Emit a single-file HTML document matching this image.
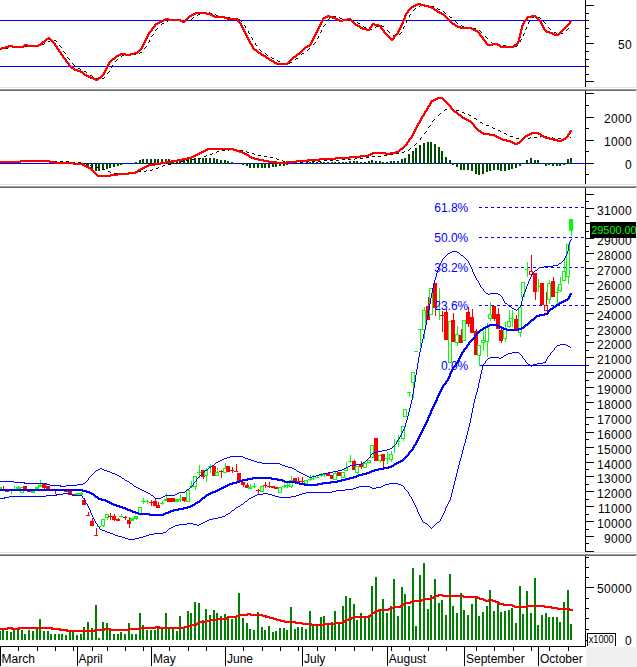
<!DOCTYPE html>
<html><head><meta charset="utf-8"><title>Chart</title>
<style>
html,body{margin:0;padding:0;background:#fff;}
body{width:637px;height:667px;overflow:hidden;position:relative;font-family:"Liberation Sans",sans-serif;}
svg text{font-family:"Liberation Sans",sans-serif;}
</style></head><body>
<svg width="637" height="667" viewBox="0 0 637 667" shape-rendering="crispEdges" style="position:absolute;left:0;top:0">
<rect x="0" y="0" width="637" height="667" fill="#ffffff"/>
<rect x="0" y="20" width="586" height="1" fill="#0000ff"/>
<rect x="0" y="66" width="586" height="1" fill="#0000ff"/>
<path d="M86 72h1v1h-1zM108 72h1v1h-1zM78 68h2v1h-2zM0 48h3v1h-3zM6 48h2v1h-2zM144 48h1v1h-1zM309 48h1v1h-1zM112 66h1v1h-1zM197 15h1v1h-1zM216 15h2v1h-2zM409 15h1v1h-1zM12 46h3v1h-3zM18 46h3v1h-3zM24 46h3v1h-3zM60 46h1v1h-1zM146 46h1v1h-1zM509 46h3v1h-3zM515 46h2v1h-2zM127 54h3v1h-3zM133 54h3v1h-3zM266 54h1v1h-1zM301 54h1v1h-1zM193 17h1v1h-1zM227 17h3v1h-3zM339 17h1v1h-1zM450 17h2v1h-2zM532 17h2v1h-2zM538 17h2v1h-2zM151 36h1v1h-1zM318 36h1v1h-1zM394 36h2v1h-2zM485 36h1v1h-1zM168 20h2v1h-2zM179 20h3v1h-3zM185 20h3v1h-3zM240 20h1v1h-1zM327 20h1v1h-1zM346 20h2v1h-2zM352 20h2v1h-2zM407 20h1v1h-1zM221 16h3v1h-3zM333 16h3v1h-3zM409 16h1v1h-1zM449 16h1v1h-1zM534 16h1v1h-1zM203 12h3v1h-3zM209 12h1v1h-1zM444 12h1v1h-1zM357 22h1v1h-1zM406 22h1v1h-1zM456 22h1v1h-1zM528 22h1v1h-1zM544 22h1v1h-1zM30 45h3v1h-3zM36 45h3v1h-3zM59 45h1v1h-1zM256 45h1v1h-1zM503 45h3v1h-3zM517 45h1v1h-1zM157 28h1v1h-1zM369 28h1v1h-1zM403 28h1v1h-1zM468 28h2v1h-2zM473 28h3v1h-3zM526 28h1v1h-1zM549 28h1v1h-1zM568 28h1v1h-1zM74 65h1v1h-1zM112 65h1v1h-1zM115 61h1v1h-1zM278 61h2v1h-2zM290 62h2v1h-2zM152 35h1v1h-1zM393 35h1v1h-1zM523 35h1v1h-1zM73 64h1v1h-1zM192 18h1v1h-1zM233 18h3v1h-3zM329 18h1v1h-1zM340 18h2v1h-2zM540 18h1v1h-1zM245 26h1v1h-1zM323 26h1v1h-1zM363 26h1v1h-1zM376 26h2v1h-2zM382 26h2v1h-2zM404 26h1v1h-1zM462 26h2v1h-2zM44 43h1v1h-1zM255 43h1v1h-1zM314 43h1v1h-1zM492 43h2v1h-2zM161 24h1v1h-1zM325 24h1v1h-1zM252 38h1v1h-1zM317 38h1v1h-1zM487 38h1v1h-1zM96 78h3v1h-3zM102 78h2v1h-2zM252 39h1v1h-1zM521 39h1v1h-1zM419 6h1v1h-1zM431 6h3v1h-3zM72 63h1v1h-1zM283 63h3v1h-3zM289 63h1v1h-1zM122 55h2v1h-2zM267 55h1v1h-1zM245 27h1v1h-1zM364 27h2v1h-2zM375 27h1v1h-1zM403 27h1v1h-1zM467 27h1v1h-1zM526 27h1v1h-1zM548 27h1v1h-1zM248 32h1v1h-1zM320 32h1v1h-1zM389 32h1v1h-1zM401 32h1v1h-1zM481 32h1v1h-1zM554 32h2v1h-2zM248 31h1v1h-1zM321 31h1v1h-1zM388 31h1v1h-1zM480 31h1v1h-1zM249 33h1v1h-1zM400 33h1v1h-1zM524 33h1v1h-1zM556 33h1v1h-1zM560 33h3v1h-3zM173 19h3v1h-3zM191 19h1v1h-1zM239 19h1v1h-1zM328 19h1v1h-1zM345 19h1v1h-1zM351 19h1v1h-1zM148 42h1v1h-1zM315 42h1v1h-1zM491 42h1v1h-1zM67 57h1v1h-1zM271 57h1v1h-1zM443 11h1v1h-1zM50 40h1v1h-1zM54 40h2v1h-2zM149 40h1v1h-1zM520 40h1v1h-1zM65 53h1v1h-1zM139 53h1v1h-1zM265 53h1v1h-1zM302 53h2v1h-2zM111 67h1v1h-1zM42 44h2v1h-2zM255 44h1v1h-1zM313 44h1v1h-1zM497 44h3v1h-3zM414 9h1v1h-1zM438 9h2v1h-2zM8 47h1v1h-1zM61 47h1v1h-1zM145 47h1v1h-1zM244 25h1v1h-1zM324 25h1v1h-1zM381 25h1v1h-1zM461 25h1v1h-1zM413 10h1v1h-1zM155 30h1v1h-1zM321 30h1v1h-1zM387 30h1v1h-1zM479 30h1v1h-1zM566 30h1v1h-1zM210 13h2v1h-2zM445 13h1v1h-1zM68 58h1v1h-1zM272 58h2v1h-2zM296 58h2v1h-2zM251 37h1v1h-1zM318 37h1v1h-1zM486 37h1v1h-1zM156 29h1v1h-1zM370 29h2v1h-2zM525 29h1v1h-1zM550 29h1v1h-1zM567 29h1v1h-1zM90 75h2v1h-2zM64 52h1v1h-1zM140 52h2v1h-2zM48 41h2v1h-2zM56 41h1v1h-1zM149 41h1v1h-1zM520 41h1v1h-1zM162 23h2v1h-2zM358 23h2v1h-2zM457 23h1v1h-1zM528 23h1v1h-1zM545 23h1v1h-1zM420 5h2v1h-2zM425 5h3v1h-3zM259 49h1v1h-1zM308 49h1v1h-1zM69 59h1v1h-1zM117 59h1v1h-1zM295 59h1v1h-1zM121 56h1v1h-1zM167 21h1v1h-1zM241 21h1v1h-1zM406 21h1v1h-1zM455 21h1v1h-1zM529 21h1v1h-1zM543 21h1v1h-1zM415 8h1v1h-1zM437 8h1v1h-1zM63 51h1v1h-1zM261 51h1v1h-1zM198 14h2v1h-2zM215 14h1v1h-1zM410 14h1v1h-1zM153 34h1v1h-1zM399 34h1v1h-1zM523 34h1v1h-1zM92 76h1v1h-1zM260 50h1v1h-1zM307 50h1v1h-1zM104 77h1v1h-1zM116 60h1v1h-1zM277 60h1v1h-1zM80 69h1v1h-1zM107 73h1v1h-1zM84 71h2v1h-2zM109 71h1v1h-1z" fill="#000000"/>
<path d="M161 20h5v1h-5zM168 20h15v1h-15zM184 20h3v1h-3zM237 20h2v1h-2zM321 20h3v1h-3zM337 20h11v1h-11zM350 20h3v1h-3zM402 20h3v1h-3zM448 20h3v1h-3zM524 20h3v1h-3zM538 20h3v1h-3zM570 20h2v1h-2zM66 62h3v1h-3zM108 62h3v1h-3zM273 62h4v1h-4zM287 62h3v1h-3zM155 23h5v1h-5zM239 23h3v1h-3zM320 23h2v1h-2zM353 23h3v1h-3zM372 23h3v1h-3zM401 23h3v1h-3zM451 23h4v1h-4zM522 23h3v1h-3zM540 23h3v1h-3zM568 23h3v1h-3zM88 77h6v1h-6zM98 77h4v1h-4zM45 39h7v1h-7zM145 39h2v1h-2zM247 39h3v1h-3zM312 39h2v1h-2zM390 39h4v1h-4zM482 39h3v1h-3zM518 39h2v1h-2zM8 45h5v1h-5zM23 45h18v1h-18zM54 45h3v1h-3zM142 45h2v1h-2zM251 45h2v1h-2zM307 45h4v1h-4zM487 45h6v1h-6zM497 45h4v1h-4zM513 45h4v1h-4zM159 21h5v1h-5zM180 21h6v1h-6zM237 21h3v1h-3zM321 21h2v1h-2zM339 21h4v1h-4zM351 21h3v1h-3zM402 21h2v1h-2zM449 21h3v1h-3zM523 21h3v1h-3zM539 21h3v1h-3zM569 21h3v1h-3zM148 33h2v1h-2zM244 33h3v1h-3zM315 33h2v1h-2zM384 33h3v1h-3zM396 33h3v1h-3zM478 33h3v1h-3zM519 33h3v1h-3zM549 33h6v1h-6zM558 33h3v1h-3zM41 42h4v1h-4zM52 42h3v1h-3zM143 42h3v1h-3zM249 42h2v1h-2zM310 42h3v1h-3zM485 42h2v1h-2zM517 42h2v1h-2zM195 12h12v1h-12zM406 12h3v1h-3zM437 12h5v1h-5zM409 8h3v1h-3zM431 8h4v1h-4zM152 27h3v1h-3zM241 27h3v1h-3zM318 27h2v1h-2zM359 27h4v1h-4zM369 27h3v1h-3zM380 27h2v1h-2zM399 27h3v1h-3zM457 27h15v1h-15zM521 27h2v1h-2zM542 27h3v1h-3zM564 27h3v1h-3zM188 16h4v1h-4zM212 16h13v1h-13zM325 16h8v1h-8zM404 16h2v1h-2zM444 16h3v1h-3zM527 16h10v1h-10zM151 29h2v1h-2zM242 29h3v1h-3zM317 29h2v1h-2zM362 29h9v1h-9zM381 29h3v1h-3zM398 29h3v1h-3zM471 29h5v1h-5zM520 29h3v1h-3zM543 29h3v1h-3zM562 29h3v1h-3zM61 55h3v1h-3zM116 55h5v1h-5zM125 55h6v1h-6zM261 55h5v1h-5zM295 55h3v1h-3zM58 51h3v1h-3zM137 51h3v1h-3zM256 51h3v1h-3zM300 51h3v1h-3zM413 5h5v1h-5zM420 5h9v1h-9zM146 36h3v1h-3zM246 36h2v1h-2zM313 36h3v1h-3zM387 36h3v1h-3zM393 36h3v1h-3zM480 36h3v1h-3zM519 36h2v1h-2zM59 52h3v1h-3zM134 52h5v1h-5zM257 52h4v1h-4zM299 52h3v1h-3zM157 22h5v1h-5zM182 22h3v1h-3zM238 22h3v1h-3zM320 22h3v1h-3zM352 22h3v1h-3zM402 22h2v1h-2zM450 22h3v1h-3zM523 22h2v1h-2zM540 22h2v1h-2zM569 22h2v1h-2zM60 53h2v1h-2zM120 53h6v1h-6zM130 53h8v1h-8zM258 53h4v1h-4zM297 53h4v1h-4zM148 32h3v1h-3zM244 32h2v1h-2zM315 32h3v1h-3zM383 32h3v1h-3zM397 32h2v1h-2zM477 32h3v1h-3zM520 32h2v1h-2zM546 32h7v1h-7zM559 32h3v1h-3zM151 28h3v1h-3zM242 28h2v1h-2zM317 28h3v1h-3zM360 28h7v1h-7zM369 28h2v1h-2zM380 28h3v1h-3zM399 28h2v1h-2zM460 28h14v1h-14zM521 28h2v1h-2zM543 28h2v1h-2zM563 28h3v1h-3zM90 78h6v1h-6zM97 78h4v1h-4zM153 26h3v1h-3zM241 26h2v1h-2zM318 26h3v1h-3zM357 26h4v1h-4zM370 26h3v1h-3zM378 26h4v1h-4zM400 26h2v1h-2zM455 26h6v1h-6zM521 26h2v1h-2zM542 26h2v1h-2zM565 26h3v1h-3zM40 43h3v1h-3zM53 43h3v1h-3zM143 43h2v1h-2zM249 43h3v1h-3zM310 43h2v1h-2zM485 43h3v1h-3zM492 43h6v1h-6zM516 43h3v1h-3zM165 18h4v1h-4zM186 18h3v1h-3zM224 18h14v1h-14zM322 18h4v1h-4zM332 18h6v1h-6zM347 18h4v1h-4zM403 18h3v1h-3zM446 18h3v1h-3zM526 18h2v1h-2zM536 18h3v1h-3zM58 50h2v1h-2zM138 50h3v1h-3zM254 50h4v1h-4zM301 50h3v1h-3zM42 41h4v1h-4zM51 41h3v1h-3zM144 41h2v1h-2zM248 41h3v1h-3zM311 41h2v1h-2zM484 41h3v1h-3zM517 41h3v1h-3zM65 61h3v1h-3zM109 61h3v1h-3zM271 61h4v1h-4zM288 61h3v1h-3zM68 64h2v1h-2zM107 64h3v1h-3zM276 64h12v1h-12zM48 37h2v1h-2zM146 37h2v1h-2zM246 37h3v1h-3zM313 37h2v1h-2zM388 37h3v1h-3zM393 37h2v1h-2zM481 37h3v1h-3zM518 37h3v1h-3zM187 17h3v1h-3zM214 17h14v1h-14zM323 17h5v1h-5zM329 17h7v1h-7zM404 17h2v1h-2zM445 17h3v1h-3zM526 17h6v1h-6zM535 17h3v1h-3zM24 44h4v1h-4zM38 44h4v1h-4zM54 44h2v1h-2zM142 44h3v1h-3zM250 44h3v1h-3zM309 44h3v1h-3zM486 44h14v1h-14zM514 44h4v1h-4zM150 30h3v1h-3zM243 30h2v1h-2zM316 30h3v1h-3zM366 30h4v1h-4zM382 30h3v1h-3zM398 30h2v1h-2zM473 30h5v1h-5zM520 30h2v1h-2zM544 30h3v1h-3zM561 30h3v1h-3zM0 49h2v1h-2zM57 49h3v1h-3zM139 49h3v1h-3zM253 49h4v1h-4zM302 49h3v1h-3zM0 48h6v1h-6zM56 48h3v1h-3zM140 48h3v1h-3zM252 48h3v1h-3zM303 48h3v1h-3zM163 19h18v1h-18zM185 19h3v1h-3zM227 19h12v1h-12zM322 19h2v1h-2zM335 19h5v1h-5zM342 19h10v1h-10zM403 19h2v1h-2zM447 19h3v1h-3zM525 19h3v1h-3zM537 19h3v1h-3zM62 57h3v1h-3zM114 57h3v1h-3zM265 57h4v1h-4zM292 57h4v1h-4zM93 79h6v1h-6zM5 46h20v1h-20zM27 46h12v1h-12zM55 46h3v1h-3zM141 46h3v1h-3zM251 46h3v1h-3zM305 46h5v1h-5zM499 46h16v1h-16zM84 75h5v1h-5zM101 75h3v1h-3zM74 70h7v1h-7zM104 70h3v1h-3zM154 24h4v1h-4zM240 24h2v1h-2zM319 24h3v1h-3zM354 24h4v1h-4zM371 24h8v1h-8zM401 24h2v1h-2zM452 24h4v1h-4zM522 24h2v1h-2zM541 24h2v1h-2zM567 24h3v1h-3zM191 14h5v1h-5zM206 14h7v1h-7zM405 14h2v1h-2zM441 14h4v1h-4zM189 15h5v1h-5zM210 15h5v1h-5zM327 15h3v1h-3zM404 15h3v1h-3zM443 15h3v1h-3zM531 15h5v1h-5zM1 47h8v1h-8zM12 47h12v1h-12zM56 47h2v1h-2zM141 47h2v1h-2zM252 47h2v1h-2zM304 47h4v1h-4zM500 47h14v1h-14zM68 65h3v1h-3zM107 65h2v1h-2zM407 10h3v1h-3zM434 10h4v1h-4zM63 58h3v1h-3zM112 58h4v1h-4zM266 58h4v1h-4zM291 58h3v1h-3zM147 35h2v1h-2zM245 35h3v1h-3zM314 35h2v1h-2zM386 35h3v1h-3zM394 35h3v1h-3zM479 35h3v1h-3zM519 35h2v1h-2zM554 35h5v1h-5zM44 40h3v1h-3zM50 40h3v1h-3zM144 40h3v1h-3zM248 40h2v1h-2zM311 40h3v1h-3zM391 40h2v1h-2zM483 40h3v1h-3zM518 40h2v1h-2zM193 13h18v1h-18zM405 13h3v1h-3zM439 13h5v1h-5zM80 72h4v1h-4zM103 72h3v1h-3zM46 38h5v1h-5zM145 38h3v1h-3zM247 38h2v1h-2zM312 38h3v1h-3zM389 38h6v1h-6zM482 38h2v1h-2zM518 38h2v1h-2zM407 11h2v1h-2zM436 11h4v1h-4zM67 63h3v1h-3zM108 63h2v1h-2zM274 63h15v1h-15zM410 7h4v1h-4zM428 7h6v1h-6zM70 67h4v1h-4zM106 67h2v1h-2zM415 4h10v1h-10zM83 74h4v1h-4zM102 74h3v1h-3zM147 34h3v1h-3zM245 34h2v1h-2zM314 34h3v1h-3zM385 34h3v1h-3zM395 34h3v1h-3zM479 34h2v1h-2zM519 34h2v1h-2zM552 34h8v1h-8zM95 80h3v1h-3zM86 76h5v1h-5zM100 76h3v1h-3zM82 73h3v1h-3zM103 73h2v1h-2zM60 54h3v1h-3zM118 54h17v1h-17zM260 54h4v1h-4zM296 54h4v1h-4zM154 25h2v1h-2zM240 25h3v1h-3zM319 25h2v1h-2zM355 25h5v1h-5zM371 25h2v1h-2zM374 25h7v1h-7zM400 25h3v1h-3zM454 25h4v1h-4zM521 25h3v1h-3zM541 25h3v1h-3zM566 25h3v1h-3zM65 60h2v1h-2zM110 60h3v1h-3zM269 60h5v1h-5zM289 60h3v1h-3zM69 66h3v1h-3zM106 66h3v1h-3zM149 31h3v1h-3zM243 31h3v1h-3zM316 31h2v1h-2zM383 31h2v1h-2zM397 31h3v1h-3zM475 31h4v1h-4zM520 31h2v1h-2zM545 31h5v1h-5zM560 31h3v1h-3zM408 9h3v1h-3zM433 9h4v1h-4zM411 6h5v1h-5zM424 6h8v1h-8zM73 69h5v1h-5zM105 69h2v1h-2zM64 59h3v1h-3zM111 59h4v1h-4zM268 59h4v1h-4zM290 59h3v1h-3zM77 71h6v1h-6zM104 71h2v1h-2zM71 68h4v1h-4zM105 68h3v1h-3zM417 3h4v1h-4zM62 56h2v1h-2zM115 56h4v1h-4zM263 56h4v1h-4zM293 56h4v1h-4z" fill="#ff0000"/>
<rect x="585" y="0" width="1" height="87" fill="#000"/>
<rect x="586" y="5" width="8" height="1" fill="#000"/>
<rect x="586" y="13" width="3" height="1" fill="#000"/>
<rect x="586" y="20" width="3" height="1" fill="#000"/>
<rect x="586" y="28" width="3" height="1" fill="#000"/>
<rect x="586" y="36" width="3" height="1" fill="#000"/>
<rect x="586" y="43" width="8" height="1" fill="#000"/>
<rect x="586" y="51" width="3" height="1" fill="#000"/>
<rect x="586" y="59" width="3" height="1" fill="#000"/>
<rect x="586" y="66" width="3" height="1" fill="#000"/>
<rect x="586" y="74" width="3" height="1" fill="#000"/>
<rect x="586" y="81" width="8" height="1" fill="#000"/>
<rect x="636" y="0" width="1" height="647" fill="#e3e3e3"/>
<rect x="0" y="87" width="637" height="1" fill="#e3e3e3"/>
<rect x="0" y="88" width="637" height="1" fill="#ffffff"/>
<rect x="0" y="89" width="637" height="1" fill="#a0a0a0"/>
<rect x="0" y="90" width="636" height="1" fill="#696969"/>
<rect x="0" y="184" width="637" height="1" fill="#e3e3e3"/>
<rect x="0" y="185" width="637" height="1" fill="#ffffff"/>
<rect x="0" y="186" width="637" height="1" fill="#a0a0a0"/>
<rect x="0" y="187" width="636" height="1" fill="#696969"/>
<rect x="0" y="552" width="637" height="1" fill="#e3e3e3"/>
<rect x="0" y="553" width="637" height="1" fill="#ffffff"/>
<rect x="0" y="554" width="637" height="1" fill="#a0a0a0"/>
<rect x="0" y="555" width="636" height="1" fill="#696969"/>
<rect x="0" y="163" width="586" height="1" fill="#0000ff"/>
<rect x="83" y="163" width="2" height="2" fill="#004a00"/>
<rect x="87" y="163" width="2" height="4" fill="#004a00"/>
<rect x="91" y="163" width="2" height="6" fill="#004a00"/>
<rect x="95" y="163" width="2" height="8" fill="#004a00"/>
<rect x="98" y="163" width="2" height="8" fill="#004a00"/>
<rect x="102" y="163" width="2" height="7" fill="#004a00"/>
<rect x="106" y="163" width="2" height="6" fill="#004a00"/>
<rect x="109" y="163" width="2" height="5" fill="#004a00"/>
<rect x="113" y="163" width="2" height="4" fill="#004a00"/>
<rect x="117" y="163" width="2" height="3" fill="#004a00"/>
<rect x="120" y="163" width="2" height="2" fill="#004a00"/>
<rect x="135" y="162" width="2" height="2" fill="#004a00"/>
<rect x="139" y="160" width="2" height="4" fill="#004a00"/>
<rect x="142" y="159" width="2" height="5" fill="#004a00"/>
<rect x="146" y="159" width="2" height="5" fill="#004a00"/>
<rect x="150" y="159" width="2" height="5" fill="#004a00"/>
<rect x="154" y="159" width="2" height="5" fill="#004a00"/>
<rect x="157" y="159" width="2" height="5" fill="#004a00"/>
<rect x="161" y="159" width="2" height="5" fill="#004a00"/>
<rect x="165" y="159" width="2" height="5" fill="#004a00"/>
<rect x="168" y="159" width="2" height="5" fill="#004a00"/>
<rect x="172" y="160" width="2" height="4" fill="#004a00"/>
<rect x="176" y="160" width="2" height="4" fill="#004a00"/>
<rect x="179" y="159" width="2" height="5" fill="#004a00"/>
<rect x="183" y="159" width="2" height="5" fill="#004a00"/>
<rect x="187" y="159" width="2" height="5" fill="#004a00"/>
<rect x="190" y="158" width="2" height="6" fill="#004a00"/>
<rect x="194" y="158" width="2" height="6" fill="#004a00"/>
<rect x="198" y="158" width="2" height="6" fill="#004a00"/>
<rect x="202" y="158" width="2" height="6" fill="#004a00"/>
<rect x="205" y="158" width="2" height="6" fill="#004a00"/>
<rect x="209" y="158" width="2" height="6" fill="#004a00"/>
<rect x="213" y="158" width="2" height="6" fill="#004a00"/>
<rect x="216" y="159" width="2" height="5" fill="#004a00"/>
<rect x="220" y="160" width="2" height="4" fill="#004a00"/>
<rect x="224" y="160" width="2" height="4" fill="#004a00"/>
<rect x="227" y="161" width="2" height="3" fill="#004a00"/>
<rect x="231" y="162" width="2" height="2" fill="#004a00"/>
<rect x="242" y="163" width="2" height="2" fill="#004a00"/>
<rect x="246" y="163" width="2" height="3" fill="#004a00"/>
<rect x="249" y="163" width="2" height="5" fill="#004a00"/>
<rect x="253" y="163" width="2" height="5" fill="#004a00"/>
<rect x="257" y="163" width="2" height="5" fill="#004a00"/>
<rect x="261" y="163" width="2" height="5" fill="#004a00"/>
<rect x="264" y="163" width="2" height="5" fill="#004a00"/>
<rect x="268" y="163" width="2" height="5" fill="#004a00"/>
<rect x="272" y="163" width="2" height="4" fill="#004a00"/>
<rect x="275" y="163" width="2" height="4" fill="#004a00"/>
<rect x="279" y="163" width="2" height="3" fill="#004a00"/>
<rect x="283" y="163" width="2" height="3" fill="#004a00"/>
<rect x="286" y="163" width="2" height="2" fill="#004a00"/>
<rect x="309" y="162" width="2" height="2" fill="#004a00"/>
<rect x="312" y="162" width="2" height="2" fill="#004a00"/>
<rect x="316" y="162" width="2" height="2" fill="#004a00"/>
<rect x="320" y="162" width="2" height="2" fill="#004a00"/>
<rect x="323" y="162" width="2" height="2" fill="#004a00"/>
<rect x="327" y="162" width="2" height="2" fill="#004a00"/>
<rect x="331" y="162" width="2" height="2" fill="#004a00"/>
<rect x="334" y="162" width="2" height="2" fill="#004a00"/>
<rect x="338" y="162" width="2" height="2" fill="#004a00"/>
<rect x="342" y="162" width="2" height="2" fill="#004a00"/>
<rect x="345" y="162" width="2" height="2" fill="#004a00"/>
<rect x="349" y="161" width="2" height="3" fill="#004a00"/>
<rect x="353" y="161" width="2" height="3" fill="#004a00"/>
<rect x="356" y="161" width="2" height="3" fill="#004a00"/>
<rect x="360" y="162" width="2" height="2" fill="#004a00"/>
<rect x="364" y="162" width="2" height="2" fill="#004a00"/>
<rect x="368" y="161" width="2" height="3" fill="#004a00"/>
<rect x="371" y="160" width="2" height="4" fill="#004a00"/>
<rect x="375" y="161" width="2" height="3" fill="#004a00"/>
<rect x="379" y="161" width="2" height="3" fill="#004a00"/>
<rect x="382" y="162" width="2" height="2" fill="#004a00"/>
<rect x="386" y="162" width="2" height="2" fill="#004a00"/>
<rect x="390" y="161" width="2" height="3" fill="#004a00"/>
<rect x="393" y="161" width="2" height="3" fill="#004a00"/>
<rect x="397" y="161" width="2" height="3" fill="#004a00"/>
<rect x="401" y="159" width="2" height="5" fill="#004a00"/>
<rect x="404" y="158" width="2" height="6" fill="#004a00"/>
<rect x="408" y="154" width="2" height="10" fill="#004a00"/>
<rect x="412" y="151" width="2" height="13" fill="#004a00"/>
<rect x="415" y="148" width="2" height="16" fill="#004a00"/>
<rect x="419" y="145" width="2" height="19" fill="#004a00"/>
<rect x="423" y="143" width="2" height="21" fill="#004a00"/>
<rect x="427" y="142" width="2" height="22" fill="#004a00"/>
<rect x="430" y="142" width="2" height="22" fill="#004a00"/>
<rect x="434" y="144" width="2" height="20" fill="#004a00"/>
<rect x="438" y="147" width="2" height="17" fill="#004a00"/>
<rect x="441" y="151" width="2" height="13" fill="#004a00"/>
<rect x="445" y="157" width="2" height="7" fill="#004a00"/>
<rect x="449" y="160" width="2" height="4" fill="#004a00"/>
<rect x="452" y="163" width="2" height="2" fill="#004a00"/>
<rect x="456" y="163" width="2" height="4" fill="#004a00"/>
<rect x="460" y="163" width="2" height="7" fill="#004a00"/>
<rect x="463" y="163" width="2" height="7" fill="#004a00"/>
<rect x="467" y="163" width="2" height="7" fill="#004a00"/>
<rect x="471" y="163" width="2" height="8" fill="#004a00"/>
<rect x="475" y="163" width="2" height="11" fill="#004a00"/>
<rect x="478" y="163" width="2" height="12" fill="#004a00"/>
<rect x="482" y="163" width="2" height="11" fill="#004a00"/>
<rect x="486" y="163" width="2" height="9" fill="#004a00"/>
<rect x="489" y="163" width="2" height="8" fill="#004a00"/>
<rect x="493" y="163" width="2" height="7" fill="#004a00"/>
<rect x="497" y="163" width="2" height="7" fill="#004a00"/>
<rect x="500" y="163" width="2" height="8" fill="#004a00"/>
<rect x="504" y="163" width="2" height="8" fill="#004a00"/>
<rect x="508" y="163" width="2" height="7" fill="#004a00"/>
<rect x="511" y="163" width="2" height="6" fill="#004a00"/>
<rect x="515" y="163" width="2" height="5" fill="#004a00"/>
<rect x="519" y="163" width="2" height="3" fill="#004a00"/>
<rect x="526" y="160" width="2" height="4" fill="#004a00"/>
<rect x="530" y="158" width="2" height="6" fill="#004a00"/>
<rect x="534" y="160" width="2" height="4" fill="#004a00"/>
<rect x="537" y="160" width="2" height="4" fill="#004a00"/>
<rect x="545" y="163" width="2" height="3" fill="#004a00"/>
<rect x="548" y="163" width="2" height="2" fill="#004a00"/>
<rect x="552" y="163" width="2" height="3" fill="#004a00"/>
<rect x="556" y="163" width="2" height="3" fill="#004a00"/>
<rect x="559" y="163" width="2" height="3" fill="#004a00"/>
<rect x="563" y="163" width="2" height="2" fill="#004a00"/>
<rect x="567" y="159" width="2" height="5" fill="#004a00"/>
<rect x="570" y="158" width="2" height="6" fill="#004a00"/>
<path d="M206 155h1v1h-1zM258 155h3v1h-3zM384 155h3v1h-3zM108 171h2v1h-2zM138 171h3v1h-3zM144 171h2v1h-2zM198 158h3v1h-3zM276 158h1v1h-1zM355 158h2v1h-2zM360 158h3v1h-3zM420 139h1v1h-1zM522 139h2v1h-2zM420 138h1v1h-1zM516 138h3v1h-3zM524 138h1v1h-1zM528 138h2v1h-2zM553 138h2v1h-2zM558 138h3v1h-3zM564 138h3v1h-3zM0 161h3v1h-3zM6 161h3v1h-3zM12 161h3v1h-3zM18 161h3v1h-3zM24 161h3v1h-3zM30 161h3v1h-3zM36 161h3v1h-3zM42 161h3v1h-3zM48 161h3v1h-3zM54 161h3v1h-3zM60 161h3v1h-3zM66 161h3v1h-3zM181 161h2v1h-2zM283 161h2v1h-2zM308 161h1v1h-1zM312 161h3v1h-3zM318 161h3v1h-3zM90 165h1v1h-1zM163 165h2v1h-2zM210 154h2v1h-2zM254 154h1v1h-1zM390 154h3v1h-3zM430 125h1v1h-1zM486 125h3v1h-3zM102 169h3v1h-3zM152 169h1v1h-1zM270 157h3v1h-3zM366 157h3v1h-3zM114 173h3v1h-3zM122 173h1v1h-1zM126 173h2v1h-2zM110 172h1v1h-1zM128 172h1v1h-1zM132 172h3v1h-3zM421 137h1v1h-1zM530 137h1v1h-1zM534 137h3v1h-3zM547 137h2v1h-2zM552 137h1v1h-1zM570 137h1v1h-1zM212 153h1v1h-1zM252 153h2v1h-2zM396 153h3v1h-3zM216 152h1v1h-1zM247 152h2v1h-2zM402 152h2v1h-2zM72 162h3v1h-3zM78 162h3v1h-3zM180 162h1v1h-1zM288 162h3v1h-3zM300 162h3v1h-3zM306 162h2v1h-2zM426 131h1v1h-1zM500 131h1v1h-1zM445 109h2v1h-2zM493 128h2v1h-2zM510 136h3v1h-3zM540 136h3v1h-3zM546 136h1v1h-1zM186 160h3v1h-3zM282 160h1v1h-1zM324 160h3v1h-3zM330 160h3v1h-3zM336 160h3v1h-3zM96 167h3v1h-3zM158 167h1v1h-1zM229 149h2v1h-2zM234 149h3v1h-3zM409 149h1v1h-1zM204 156h2v1h-2zM264 156h3v1h-3zM372 156h3v1h-3zM378 156h3v1h-3zM451 108h2v1h-2zM424 133h1v1h-1zM504 133h2v1h-2zM192 159h3v1h-3zM277 159h2v1h-2zM342 159h3v1h-3zM348 159h3v1h-3zM354 159h1v1h-1zM434 119h1v1h-1zM476 119h1v1h-1zM86 164h1v1h-1zM168 164h3v1h-3zM432 121h1v1h-1zM433 120h1v1h-1zM217 151h2v1h-2zM246 151h1v1h-1zM404 151h1v1h-1zM498 130h2v1h-2zM84 163h2v1h-2zM174 163h3v1h-3zM294 163h3v1h-3zM438 115h1v1h-1zM469 115h2v1h-2zM506 134h1v1h-1zM415 144h1v1h-1zM462 112h2v1h-2zM222 150h3v1h-3zM228 150h1v1h-1zM240 150h3v1h-3zM408 150h1v1h-1zM120 174h2v1h-2zM425 132h1v1h-1zM444 110h1v1h-1zM456 110h3v1h-3zM440 113h1v1h-1zM464 113h1v1h-1zM474 118h2v1h-2zM480 122h2v1h-2zM146 170h1v1h-1zM150 170h2v1h-2zM439 114h1v1h-1zM468 114h1v1h-1zM91 166h2v1h-2zM162 166h1v1h-1zM414 145h1v1h-1zM156 168h2v1h-2zM429 126h1v1h-1zM428 127h1v1h-1zM492 127h1v1h-1zM450 107h1v1h-1zM482 123h1v1h-1zM410 148h1v1h-1zM416 143h1v1h-1z" fill="#000000"/>
<path d="M177 159h11v1h-11zM254 159h10v1h-10zM307 159h29v1h-29zM409 138h3v1h-3zM498 138h5v1h-5zM522 138h3v1h-3zM545 138h9v1h-9zM563 138h4v1h-4zM0 162h21v1h-21zM49 162h25v1h-25zM160 162h12v1h-12zM268 162h29v1h-29zM412 134h2v1h-2zM483 134h12v1h-12zM527 134h5v1h-5zM538 134h4v1h-4zM567 134h3v1h-3zM195 154h5v1h-5zM244 154h5v1h-5zM368 154h5v1h-5zM385 154h6v1h-6zM97 176h14v1h-14zM20 160h30v1h-30zM171 160h12v1h-12zM258 160h11v1h-11zM296 160h24v1h-24zM410 137h3v1h-3zM496 137h5v1h-5zM523 137h3v1h-3zM543 137h7v1h-7zM565 137h3v1h-3zM187 157h7v1h-7zM249 157h6v1h-6zM335 157h26v1h-26zM182 158h10v1h-10zM251 158h8v1h-8zM319 158h31v1h-31zM199 152h5v1h-5zM239 152h6v1h-6zM372 152h14v1h-14zM390 152h9v1h-9zM437 97h6v1h-6zM421 117h2v1h-2zM461 117h4v1h-4zM197 153h5v1h-5zM242 153h5v1h-5zM370 153h26v1h-26zM416 126h2v1h-2zM473 126h3v1h-3zM205 149h32v1h-32zM399 149h4v1h-4zM92 171h3v1h-3zM135 171h4v1h-4zM54 163h29v1h-29zM154 163h12v1h-12zM276 163h11v1h-11zM94 173h3v1h-3zM117 173h19v1h-19zM95 174h3v1h-3zM110 174h19v1h-19zM407 141h3v1h-3zM506 141h7v1h-7zM519 141h3v1h-3zM557 141h5v1h-5zM414 129h3v1h-3zM476 129h3v1h-3zM207 148h27v1h-27zM400 148h4v1h-4zM411 135h3v1h-3zM489 135h8v1h-8zM525 135h5v1h-5zM540 135h4v1h-4zM567 135h2v1h-2zM0 161h55v1h-55zM165 161h13v1h-13zM263 161h14v1h-14zM286 161h22v1h-22zM201 151h5v1h-5zM236 151h7v1h-7zM395 151h5v1h-5zM429 103h3v1h-3zM446 103h3v1h-3zM423 114h2v1h-2zM457 114h4v1h-4zM203 150h5v1h-5zM233 150h7v1h-7zM398 150h3v1h-3zM426 109h2v1h-2zM451 109h3v1h-3zM415 128h2v1h-2zM475 128h3v1h-3zM73 164h12v1h-12zM148 164h13v1h-13zM86 167h5v1h-5zM142 167h5v1h-5zM425 110h3v1h-3zM452 110h3v1h-3zM406 142h3v1h-3zM510 142h5v1h-5zM517 142h4v1h-4zM412 133h3v1h-3zM481 133h9v1h-9zM529 133h12v1h-12zM568 133h3v1h-3zM420 119h2v1h-2zM464 119h5v1h-5zM431 100h5v1h-5zM443 100h3v1h-3zM193 155h5v1h-5zM246 155h4v1h-4zM360 155h11v1h-11zM406 143h2v1h-2zM512 143h8v1h-8zM428 105h3v1h-3zM448 105h3v1h-3zM84 166h5v1h-5zM144 166h5v1h-5zM411 136h2v1h-2zM494 136h5v1h-5zM524 136h4v1h-4zM541 136h5v1h-5zM566 136h3v1h-3zM408 139h3v1h-3zM500 139h7v1h-7zM521 139h3v1h-3zM549 139h9v1h-9zM561 139h5v1h-5zM96 175h22v1h-22zM408 140h2v1h-2zM502 140h9v1h-9zM520 140h3v1h-3zM553 140h11v1h-11zM424 112h2v1h-2zM454 112h4v1h-4zM413 131h3v1h-3zM478 131h4v1h-4zM569 131h3v1h-3zM427 106h3v1h-3zM449 106h3v1h-3zM422 115h3v1h-3zM458 115h4v1h-4zM405 144h3v1h-3zM514 144h4v1h-4zM427 107h2v1h-2zM450 107h2v1h-2zM421 116h3v1h-3zM460 116h3v1h-3zM435 98h9v1h-9zM191 156h5v1h-5zM248 156h4v1h-4zM349 156h20v1h-20zM93 172h3v1h-3zM128 172h10v1h-10zM418 122h3v1h-3zM470 122h3v1h-3zM426 108h3v1h-3zM450 108h3v1h-3zM420 118h3v1h-3zM462 118h5v1h-5zM433 99h5v1h-5zM442 99h3v1h-3zM82 165h5v1h-5zM146 165h9v1h-9zM413 132h2v1h-2zM480 132h4v1h-4zM531 132h8v1h-8zM569 132h2v1h-2zM424 111h3v1h-3zM453 111h4v1h-4zM90 169h3v1h-3zM138 169h5v1h-5zM417 124h2v1h-2zM472 124h3v1h-3zM403 146h3v1h-3zM88 168h4v1h-4zM140 168h5v1h-5zM423 113h3v1h-3zM456 113h3v1h-3zM419 121h2v1h-2zM468 121h4v1h-4zM419 120h3v1h-3zM466 120h5v1h-5zM415 127h3v1h-3zM474 127h3v1h-3zM414 130h2v1h-2zM477 130h4v1h-4zM570 130h2v1h-2zM429 104h2v1h-2zM447 104h3v1h-3zM404 145h3v1h-3zM430 101h4v1h-4zM444 101h3v1h-3zM91 170h3v1h-3zM137 170h4v1h-4zM417 123h3v1h-3zM471 123h3v1h-3zM416 125h3v1h-3zM473 125h2v1h-2zM402 147h3v1h-3zM430 102h2v1h-2zM445 102h3v1h-3z" fill="#ff0000"/>
<rect x="585" y="91" width="1" height="93" fill="#000"/>
<rect x="586" y="93" width="8" height="1" fill="#000"/>
<rect x="586" y="105" width="3" height="1" fill="#000"/>
<rect x="586" y="117" width="8" height="1" fill="#000"/>
<rect x="586" y="128" width="3" height="1" fill="#000"/>
<rect x="586" y="140" width="8" height="1" fill="#000"/>
<rect x="586" y="151" width="3" height="1" fill="#000"/>
<rect x="586" y="163" width="8" height="1" fill="#000"/>
<rect x="586" y="174" width="3" height="1" fill="#000"/>
<rect x="585" y="188" width="1" height="364" fill="#000"/>
<rect x="586" y="551" width="8" height="1" fill="#000"/>
<rect x="586" y="543" width="3" height="1" fill="#000"/>
<rect x="586" y="536" width="8" height="1" fill="#000"/>
<rect x="586" y="529" width="3" height="1" fill="#000"/>
<rect x="586" y="521" width="8" height="1" fill="#000"/>
<rect x="586" y="514" width="3" height="1" fill="#000"/>
<rect x="586" y="506" width="8" height="1" fill="#000"/>
<rect x="586" y="499" width="3" height="1" fill="#000"/>
<rect x="586" y="491" width="8" height="1" fill="#000"/>
<rect x="586" y="484" width="3" height="1" fill="#000"/>
<rect x="586" y="476" width="8" height="1" fill="#000"/>
<rect x="586" y="469" width="3" height="1" fill="#000"/>
<rect x="586" y="462" width="8" height="1" fill="#000"/>
<rect x="586" y="454" width="3" height="1" fill="#000"/>
<rect x="586" y="447" width="8" height="1" fill="#000"/>
<rect x="586" y="439" width="3" height="1" fill="#000"/>
<rect x="586" y="432" width="8" height="1" fill="#000"/>
<rect x="586" y="424" width="3" height="1" fill="#000"/>
<rect x="586" y="417" width="8" height="1" fill="#000"/>
<rect x="586" y="409" width="3" height="1" fill="#000"/>
<rect x="586" y="402" width="8" height="1" fill="#000"/>
<rect x="586" y="395" width="3" height="1" fill="#000"/>
<rect x="586" y="387" width="8" height="1" fill="#000"/>
<rect x="586" y="380" width="3" height="1" fill="#000"/>
<rect x="586" y="372" width="8" height="1" fill="#000"/>
<rect x="586" y="365" width="3" height="1" fill="#000"/>
<rect x="586" y="357" width="8" height="1" fill="#000"/>
<rect x="586" y="350" width="3" height="1" fill="#000"/>
<rect x="586" y="342" width="8" height="1" fill="#000"/>
<rect x="586" y="335" width="3" height="1" fill="#000"/>
<rect x="586" y="328" width="8" height="1" fill="#000"/>
<rect x="586" y="320" width="3" height="1" fill="#000"/>
<rect x="586" y="313" width="8" height="1" fill="#000"/>
<rect x="586" y="305" width="3" height="1" fill="#000"/>
<rect x="586" y="298" width="8" height="1" fill="#000"/>
<rect x="586" y="290" width="3" height="1" fill="#000"/>
<rect x="586" y="283" width="8" height="1" fill="#000"/>
<rect x="586" y="275" width="3" height="1" fill="#000"/>
<rect x="586" y="268" width="8" height="1" fill="#000"/>
<rect x="586" y="261" width="3" height="1" fill="#000"/>
<rect x="586" y="253" width="8" height="1" fill="#000"/>
<rect x="586" y="246" width="3" height="1" fill="#000"/>
<rect x="586" y="238" width="8" height="1" fill="#000"/>
<rect x="586" y="231" width="3" height="1" fill="#000"/>
<rect x="586" y="223" width="8" height="1" fill="#000"/>
<rect x="586" y="216" width="3" height="1" fill="#000"/>
<rect x="586" y="208" width="8" height="1" fill="#000"/>
<rect x="586" y="201" width="3" height="1" fill="#000"/>
<rect x="586" y="194" width="8" height="1" fill="#000"/>
<path d="M479 207.5 H585" stroke="#0000ff" stroke-width="1" stroke-dasharray="3 3" fill="none"/>
<path d="M479 237.5 H585" stroke="#0000ff" stroke-width="1" stroke-dasharray="3 3" fill="none"/>
<path d="M479 267.5 H585" stroke="#0000ff" stroke-width="1" stroke-dasharray="3 3" fill="none"/>
<path d="M479 305.5 H585" stroke="#0000ff" stroke-width="1" stroke-dasharray="3 3" fill="none"/>
<rect x="479" y="365" width="107" height="1" fill="#0000ff"/>
<rect x="0" y="487" width="1" height="2" fill="#00ff00"/>
<rect x="-2" y="487" width="4" height="2" fill="#00ff00"/>
<rect x="3" y="486" width="1" height="3" fill="#ff0000"/>
<rect x="7" y="490" width="1" height="2" fill="#ff0000"/>
<rect x="5" y="490" width="4" height="2" fill="#ff0000"/>
<rect x="11" y="490" width="1" height="4" fill="#00ff00"/>
<rect x="14" y="486" width="1" height="3" fill="#00ff00"/>
<rect x="18" y="486" width="1" height="3" fill="#00ff00"/>
<rect x="16" y="487" width="4" height="2" fill="#00ff00"/>
<rect x="22" y="487" width="1" height="6" fill="#00ff00"/>
<rect x="20" y="487" width="4" height="6" fill="#00ff00"/>
<rect x="21" y="488" width="2" height="4" fill="#ffffff"/>
<rect x="25" y="486" width="1" height="3" fill="#ff0000"/>
<rect x="23" y="486" width="4" height="3" fill="#ff0000"/>
<rect x="29" y="490" width="1" height="2" fill="#ff0000"/>
<rect x="27" y="490" width="4" height="2" fill="#ff0000"/>
<rect x="33" y="490" width="1" height="3" fill="#00ff00"/>
<rect x="31" y="490" width="4" height="3" fill="#00ff00"/>
<rect x="37" y="487" width="1" height="4" fill="#00ff00"/>
<rect x="35" y="487" width="4" height="4" fill="#00ff00"/>
<rect x="40" y="480" width="1" height="7" fill="#00ff00"/>
<rect x="38" y="485" width="4" height="2" fill="#00ff00"/>
<rect x="44" y="484" width="1" height="5" fill="#ff0000"/>
<rect x="42" y="484" width="4" height="4" fill="#ff0000"/>
<rect x="48" y="486" width="1" height="3" fill="#ff0000"/>
<rect x="46" y="486" width="4" height="3" fill="#ff0000"/>
<rect x="55" y="491" width="1" height="3" fill="#ff0000"/>
<rect x="66" y="490" width="1" height="2" fill="#ff0000"/>
<rect x="64" y="490" width="4" height="2" fill="#ff0000"/>
<rect x="70" y="491" width="1" height="4" fill="#ff0000"/>
<rect x="68" y="491" width="4" height="4" fill="#ff0000"/>
<rect x="73" y="494" width="1" height="1" fill="#ff0000"/>
<rect x="71" y="494" width="4" height="1" fill="#ff0000"/>
<rect x="77" y="493" width="1" height="2" fill="#00ff00"/>
<rect x="75" y="493" width="4" height="2" fill="#00ff00"/>
<rect x="81" y="492" width="1" height="3" fill="#00ff00"/>
<rect x="79" y="493" width="4" height="2" fill="#00ff00"/>
<rect x="84" y="498" width="1" height="7" fill="#ff0000"/>
<rect x="82" y="500" width="4" height="5" fill="#ff0000"/>
<rect x="88" y="512" width="1" height="4" fill="#ff0000"/>
<rect x="86" y="515" width="4" height="1" fill="#ff0000"/>
<rect x="92" y="518" width="1" height="8" fill="#ff0000"/>
<rect x="90" y="521" width="4" height="5" fill="#ff0000"/>
<rect x="96" y="528" width="1" height="8" fill="#ff0000"/>
<rect x="94" y="535" width="4" height="1" fill="#ff0000"/>
<rect x="99" y="526" width="1" height="1" fill="#00ff00"/>
<rect x="97" y="526" width="4" height="1" fill="#00ff00"/>
<rect x="103" y="519" width="1" height="8" fill="#00ff00"/>
<rect x="101" y="519" width="4" height="7" fill="#00ff00"/>
<rect x="102" y="520" width="2" height="5" fill="#ffffff"/>
<rect x="107" y="514" width="1" height="6" fill="#00ff00"/>
<rect x="105" y="514" width="4" height="4" fill="#00ff00"/>
<rect x="106" y="515" width="2" height="2" fill="#ffffff"/>
<rect x="110" y="513" width="1" height="7" fill="#ff0000"/>
<rect x="108" y="516" width="4" height="1" fill="#ff0000"/>
<rect x="114" y="514" width="1" height="7" fill="#ff0000"/>
<rect x="112" y="516" width="4" height="4" fill="#ff0000"/>
<rect x="118" y="518" width="1" height="3" fill="#ff0000"/>
<rect x="116" y="519" width="4" height="2" fill="#ff0000"/>
<rect x="121" y="514" width="1" height="3" fill="#00ff00"/>
<rect x="119" y="516" width="4" height="1" fill="#00ff00"/>
<rect x="125" y="516" width="1" height="4" fill="#ff0000"/>
<rect x="123" y="517" width="4" height="1" fill="#ff0000"/>
<rect x="129" y="517" width="1" height="11" fill="#ff0000"/>
<rect x="127" y="520" width="4" height="4" fill="#ff0000"/>
<rect x="132" y="518" width="1" height="3" fill="#00ff00"/>
<rect x="130" y="518" width="4" height="3" fill="#00ff00"/>
<rect x="136" y="516" width="1" height="4" fill="#00ff00"/>
<rect x="134" y="516" width="4" height="3" fill="#00ff00"/>
<rect x="140" y="507" width="1" height="9" fill="#00ff00"/>
<rect x="138" y="507" width="4" height="7" fill="#00ff00"/>
<rect x="139" y="508" width="2" height="5" fill="#ffffff"/>
<rect x="143" y="498" width="1" height="6" fill="#00ff00"/>
<rect x="141" y="501" width="4" height="1" fill="#00ff00"/>
<rect x="147" y="500" width="1" height="4" fill="#00ff00"/>
<rect x="145" y="501" width="4" height="1" fill="#00ff00"/>
<rect x="151" y="500" width="1" height="6" fill="#ff0000"/>
<rect x="149" y="502" width="4" height="1" fill="#ff0000"/>
<rect x="155" y="498" width="1" height="8" fill="#ff0000"/>
<rect x="153" y="501" width="4" height="5" fill="#ff0000"/>
<rect x="158" y="502" width="1" height="6" fill="#ff0000"/>
<rect x="156" y="505" width="4" height="3" fill="#ff0000"/>
<rect x="162" y="501" width="1" height="4" fill="#00ff00"/>
<rect x="160" y="503" width="4" height="1" fill="#00ff00"/>
<rect x="166" y="493" width="1" height="8" fill="#00ff00"/>
<rect x="164" y="499" width="4" height="2" fill="#00ff00"/>
<rect x="169" y="498" width="1" height="4" fill="#ff0000"/>
<rect x="167" y="498" width="4" height="4" fill="#ff0000"/>
<rect x="173" y="498" width="1" height="4" fill="#ff0000"/>
<rect x="171" y="498" width="4" height="4" fill="#ff0000"/>
<rect x="177" y="499" width="1" height="3" fill="#00ff00"/>
<rect x="175" y="499" width="4" height="3" fill="#00ff00"/>
<rect x="180" y="494" width="1" height="8" fill="#00ff00"/>
<rect x="178" y="499" width="4" height="1" fill="#00ff00"/>
<rect x="184" y="497" width="1" height="5" fill="#ff0000"/>
<rect x="182" y="497" width="4" height="4" fill="#ff0000"/>
<rect x="188" y="490" width="1" height="12" fill="#00ff00"/>
<rect x="186" y="490" width="4" height="12" fill="#00ff00"/>
<rect x="187" y="491" width="2" height="10" fill="#ffffff"/>
<rect x="191" y="481" width="1" height="7" fill="#00ff00"/>
<rect x="189" y="486" width="4" height="1" fill="#00ff00"/>
<rect x="195" y="476" width="1" height="14" fill="#00ff00"/>
<rect x="193" y="476" width="4" height="11" fill="#00ff00"/>
<rect x="194" y="477" width="2" height="9" fill="#ffffff"/>
<rect x="199" y="465" width="1" height="13" fill="#00ff00"/>
<rect x="197" y="472" width="4" height="1" fill="#00ff00"/>
<rect x="203" y="470" width="1" height="9" fill="#ff0000"/>
<rect x="201" y="470" width="4" height="7" fill="#ff0000"/>
<rect x="206" y="468" width="1" height="14" fill="#00ff00"/>
<rect x="204" y="470" width="4" height="6" fill="#00ff00"/>
<rect x="205" y="471" width="2" height="4" fill="#ffffff"/>
<rect x="210" y="464" width="1" height="9" fill="#00ff00"/>
<rect x="208" y="466" width="4" height="1" fill="#00ff00"/>
<rect x="214" y="466" width="1" height="10" fill="#ff0000"/>
<rect x="212" y="466" width="4" height="10" fill="#ff0000"/>
<rect x="217" y="468" width="1" height="8" fill="#00ff00"/>
<rect x="215" y="472" width="4" height="4" fill="#00ff00"/>
<rect x="216" y="473" width="2" height="2" fill="#ffffff"/>
<rect x="221" y="470" width="1" height="8" fill="#ff0000"/>
<rect x="219" y="471" width="4" height="1" fill="#ff0000"/>
<rect x="225" y="463" width="1" height="10" fill="#00ff00"/>
<rect x="223" y="468" width="4" height="5" fill="#00ff00"/>
<rect x="224" y="469" width="2" height="3" fill="#ffffff"/>
<rect x="228" y="466" width="1" height="6" fill="#ff0000"/>
<rect x="226" y="466" width="4" height="6" fill="#ff0000"/>
<rect x="232" y="467" width="1" height="6" fill="#ff0000"/>
<rect x="230" y="470" width="4" height="1" fill="#ff0000"/>
<rect x="236" y="464" width="1" height="8" fill="#ff0000"/>
<rect x="234" y="471" width="4" height="1" fill="#ff0000"/>
<rect x="239" y="473" width="1" height="9" fill="#ff0000"/>
<rect x="237" y="473" width="4" height="9" fill="#ff0000"/>
<rect x="243" y="482" width="1" height="5" fill="#ff0000"/>
<rect x="241" y="482" width="4" height="3" fill="#ff0000"/>
<rect x="247" y="483" width="1" height="5" fill="#ff0000"/>
<rect x="245" y="485" width="4" height="3" fill="#ff0000"/>
<rect x="250" y="484" width="1" height="5" fill="#00ff00"/>
<rect x="248" y="487" width="4" height="2" fill="#00ff00"/>
<rect x="254" y="483" width="1" height="5" fill="#00ff00"/>
<rect x="252" y="486" width="4" height="1" fill="#00ff00"/>
<rect x="258" y="489" width="1" height="6" fill="#ff0000"/>
<rect x="256" y="490" width="4" height="1" fill="#ff0000"/>
<rect x="262" y="486" width="1" height="6" fill="#00ff00"/>
<rect x="260" y="486" width="4" height="6" fill="#00ff00"/>
<rect x="261" y="487" width="2" height="4" fill="#ffffff"/>
<rect x="265" y="482" width="1" height="6" fill="#ff0000"/>
<rect x="263" y="485" width="4" height="1" fill="#ff0000"/>
<rect x="269" y="482" width="1" height="6" fill="#ff0000"/>
<rect x="267" y="486" width="4" height="1" fill="#ff0000"/>
<rect x="273" y="486" width="1" height="2" fill="#ff0000"/>
<rect x="271" y="486" width="4" height="2" fill="#ff0000"/>
<rect x="276" y="487" width="1" height="2" fill="#ff0000"/>
<rect x="274" y="487" width="4" height="2" fill="#ff0000"/>
<rect x="280" y="487" width="1" height="6" fill="#00ff00"/>
<rect x="278" y="487" width="4" height="6" fill="#00ff00"/>
<rect x="279" y="488" width="2" height="4" fill="#ffffff"/>
<rect x="284" y="484" width="1" height="4" fill="#00ff00"/>
<rect x="282" y="486" width="4" height="1" fill="#00ff00"/>
<rect x="287" y="482" width="1" height="6" fill="#00ff00"/>
<rect x="285" y="485" width="4" height="1" fill="#00ff00"/>
<rect x="291" y="476" width="1" height="12" fill="#00ff00"/>
<rect x="289" y="480" width="4" height="7" fill="#00ff00"/>
<rect x="290" y="481" width="2" height="5" fill="#ffffff"/>
<rect x="295" y="478" width="1" height="4" fill="#ff0000"/>
<rect x="293" y="478" width="4" height="4" fill="#ff0000"/>
<rect x="298" y="477" width="1" height="5" fill="#ff0000"/>
<rect x="296" y="481" width="4" height="1" fill="#ff0000"/>
<rect x="302" y="477" width="1" height="7" fill="#ff0000"/>
<rect x="300" y="481" width="4" height="1" fill="#ff0000"/>
<rect x="306" y="480" width="1" height="4" fill="#00ff00"/>
<rect x="304" y="480" width="4" height="4" fill="#00ff00"/>
<rect x="305" y="481" width="2" height="2" fill="#ffffff"/>
<rect x="310" y="475" width="1" height="6" fill="#00ff00"/>
<rect x="308" y="479" width="4" height="1" fill="#00ff00"/>
<rect x="313" y="475" width="1" height="5" fill="#00ff00"/>
<rect x="311" y="478" width="4" height="1" fill="#00ff00"/>
<rect x="317" y="475" width="1" height="3" fill="#00ff00"/>
<rect x="315" y="477" width="4" height="1" fill="#00ff00"/>
<rect x="321" y="473" width="1" height="4" fill="#00ff00"/>
<rect x="319" y="475" width="4" height="1" fill="#00ff00"/>
<rect x="324" y="473" width="1" height="4" fill="#00ff00"/>
<rect x="322" y="474" width="4" height="1" fill="#00ff00"/>
<rect x="328" y="472" width="1" height="4" fill="#ff0000"/>
<rect x="326" y="473" width="4" height="3" fill="#ff0000"/>
<rect x="332" y="475" width="1" height="4" fill="#ff0000"/>
<rect x="330" y="475" width="4" height="4" fill="#ff0000"/>
<rect x="335" y="471" width="1" height="9" fill="#00ff00"/>
<rect x="333" y="473" width="4" height="7" fill="#00ff00"/>
<rect x="334" y="474" width="2" height="5" fill="#ffffff"/>
<rect x="339" y="472" width="1" height="4" fill="#ff0000"/>
<rect x="337" y="472" width="4" height="4" fill="#ff0000"/>
<rect x="343" y="472" width="1" height="6" fill="#00ff00"/>
<rect x="341" y="472" width="4" height="6" fill="#00ff00"/>
<rect x="342" y="473" width="2" height="4" fill="#ffffff"/>
<rect x="346" y="462" width="1" height="9" fill="#00ff00"/>
<rect x="344" y="468" width="4" height="3" fill="#00ff00"/>
<rect x="345" y="469" width="2" height="1" fill="#ffffff"/>
<rect x="350" y="455" width="1" height="8" fill="#00ff00"/>
<rect x="348" y="461" width="4" height="1" fill="#00ff00"/>
<rect x="354" y="460" width="1" height="10" fill="#ff0000"/>
<rect x="352" y="461" width="4" height="9" fill="#ff0000"/>
<rect x="357" y="466" width="1" height="8" fill="#00ff00"/>
<rect x="355" y="466" width="4" height="7" fill="#00ff00"/>
<rect x="356" y="467" width="2" height="5" fill="#ffffff"/>
<rect x="361" y="461" width="1" height="8" fill="#ff0000"/>
<rect x="359" y="464" width="4" height="3" fill="#ff0000"/>
<rect x="365" y="463" width="1" height="5" fill="#00ff00"/>
<rect x="363" y="463" width="4" height="5" fill="#00ff00"/>
<rect x="364" y="464" width="2" height="3" fill="#ffffff"/>
<rect x="369" y="460" width="1" height="3" fill="#00ff00"/>
<rect x="367" y="460" width="4" height="3" fill="#00ff00"/>
<rect x="368" y="461" width="2" height="1" fill="#ffffff"/>
<rect x="372" y="445" width="1" height="13" fill="#00ff00"/>
<rect x="370" y="445" width="4" height="13" fill="#00ff00"/>
<rect x="371" y="446" width="2" height="11" fill="#ffffff"/>
<rect x="376" y="438" width="1" height="23" fill="#ff0000"/>
<rect x="374" y="438" width="4" height="23" fill="#ff0000"/>
<rect x="380" y="455" width="1" height="8" fill="#00ff00"/>
<rect x="378" y="455" width="4" height="6" fill="#00ff00"/>
<rect x="379" y="456" width="2" height="4" fill="#ffffff"/>
<rect x="383" y="454" width="1" height="14" fill="#ff0000"/>
<rect x="381" y="454" width="4" height="7" fill="#ff0000"/>
<rect x="387" y="452" width="1" height="12" fill="#00ff00"/>
<rect x="385" y="458" width="4" height="1" fill="#00ff00"/>
<rect x="391" y="451" width="1" height="11" fill="#00ff00"/>
<rect x="389" y="454" width="4" height="6" fill="#00ff00"/>
<rect x="390" y="455" width="2" height="4" fill="#ffffff"/>
<rect x="394" y="439" width="1" height="14" fill="#00ff00"/>
<rect x="392" y="446" width="4" height="1" fill="#00ff00"/>
<rect x="398" y="435" width="1" height="12" fill="#00ff00"/>
<rect x="396" y="441" width="4" height="1" fill="#00ff00"/>
<rect x="403" y="426" width="1" height="15" fill="#00ff00"/>
<rect x="401" y="426" width="4" height="13" fill="#00ff00"/>
<rect x="402" y="427" width="2" height="11" fill="#ffffff"/>
<rect x="405" y="409" width="1" height="8" fill="#00ff00"/>
<rect x="403" y="409" width="4" height="8" fill="#00ff00"/>
<rect x="404" y="410" width="2" height="6" fill="#ffffff"/>
<rect x="409" y="392" width="1" height="5" fill="#00ff00"/>
<rect x="407" y="392" width="4" height="1" fill="#00ff00"/>
<rect x="413" y="372" width="1" height="26" fill="#00ff00"/>
<rect x="411" y="372" width="4" height="11" fill="#00ff00"/>
<rect x="412" y="373" width="2" height="9" fill="#ffffff"/>
<rect x="416" y="351" width="1" height="1" fill="#00ff00"/>
<rect x="414" y="351" width="4" height="1" fill="#00ff00"/>
<rect x="420" y="329" width="1" height="18" fill="#00ff00"/>
<rect x="418" y="329" width="4" height="1" fill="#00ff00"/>
<rect x="424" y="307" width="1" height="32" fill="#00ff00"/>
<rect x="422" y="310" width="4" height="20" fill="#00ff00"/>
<rect x="423" y="311" width="2" height="18" fill="#ffffff"/>
<rect x="428" y="297" width="1" height="23" fill="#ff0000"/>
<rect x="426" y="306" width="4" height="14" fill="#ff0000"/>
<rect x="431" y="288" width="1" height="27" fill="#00ff00"/>
<rect x="429" y="288" width="4" height="27" fill="#00ff00"/>
<rect x="430" y="289" width="2" height="25" fill="#ffffff"/>
<rect x="435" y="283" width="1" height="33" fill="#ff0000"/>
<rect x="433" y="283" width="4" height="25" fill="#ff0000"/>
<rect x="439" y="288" width="1" height="32" fill="#00ff00"/>
<rect x="442" y="311" width="1" height="21" fill="#ff0000"/>
<rect x="440" y="315" width="4" height="1" fill="#ff0000"/>
<rect x="446" y="309" width="1" height="31" fill="#ff0000"/>
<rect x="444" y="312" width="4" height="28" fill="#ff0000"/>
<rect x="450" y="321" width="1" height="42" fill="#00ff00"/>
<rect x="448" y="321" width="4" height="42" fill="#00ff00"/>
<rect x="449" y="322" width="2" height="40" fill="#ffffff"/>
<rect x="453" y="313" width="1" height="29" fill="#ff0000"/>
<rect x="451" y="320" width="4" height="22" fill="#ff0000"/>
<rect x="457" y="326" width="1" height="20" fill="#00ff00"/>
<rect x="455" y="334" width="4" height="9" fill="#00ff00"/>
<rect x="456" y="335" width="2" height="7" fill="#ffffff"/>
<rect x="461" y="329" width="1" height="14" fill="#ff0000"/>
<rect x="459" y="335" width="4" height="8" fill="#ff0000"/>
<rect x="464" y="320" width="1" height="21" fill="#00ff00"/>
<rect x="462" y="320" width="4" height="21" fill="#00ff00"/>
<rect x="463" y="321" width="2" height="19" fill="#ffffff"/>
<rect x="468" y="307" width="1" height="20" fill="#ff0000"/>
<rect x="466" y="312" width="4" height="12" fill="#ff0000"/>
<rect x="472" y="309" width="1" height="24" fill="#ff0000"/>
<rect x="470" y="317" width="4" height="16" fill="#ff0000"/>
<rect x="476" y="329" width="1" height="26" fill="#ff0000"/>
<rect x="474" y="331" width="4" height="24" fill="#ff0000"/>
<rect x="479" y="345" width="1" height="21" fill="#00ff00"/>
<rect x="477" y="345" width="4" height="11" fill="#00ff00"/>
<rect x="478" y="346" width="2" height="9" fill="#ffffff"/>
<rect x="483" y="331" width="1" height="20" fill="#00ff00"/>
<rect x="481" y="340" width="4" height="3" fill="#00ff00"/>
<rect x="482" y="341" width="2" height="1" fill="#ffffff"/>
<rect x="487" y="323" width="1" height="34" fill="#00ff00"/>
<rect x="485" y="327" width="4" height="15" fill="#00ff00"/>
<rect x="486" y="328" width="2" height="13" fill="#ffffff"/>
<rect x="490" y="302" width="1" height="19" fill="#00ff00"/>
<rect x="488" y="314" width="4" height="5" fill="#00ff00"/>
<rect x="489" y="315" width="2" height="3" fill="#ffffff"/>
<rect x="494" y="306" width="1" height="15" fill="#ff0000"/>
<rect x="492" y="306" width="4" height="13" fill="#ff0000"/>
<rect x="498" y="308" width="1" height="21" fill="#ff0000"/>
<rect x="496" y="314" width="4" height="15" fill="#ff0000"/>
<rect x="501" y="328" width="1" height="15" fill="#ff0000"/>
<rect x="499" y="330" width="4" height="11" fill="#ff0000"/>
<rect x="505" y="322" width="1" height="20" fill="#00ff00"/>
<rect x="503" y="329" width="4" height="10" fill="#00ff00"/>
<rect x="504" y="330" width="2" height="8" fill="#ffffff"/>
<rect x="509" y="310" width="1" height="18" fill="#00ff00"/>
<rect x="507" y="321" width="4" height="6" fill="#00ff00"/>
<rect x="508" y="322" width="2" height="4" fill="#ffffff"/>
<rect x="512" y="310" width="1" height="17" fill="#00ff00"/>
<rect x="510" y="318" width="4" height="1" fill="#00ff00"/>
<rect x="516" y="315" width="1" height="16" fill="#ff0000"/>
<rect x="514" y="319" width="4" height="12" fill="#ff0000"/>
<rect x="520" y="307" width="1" height="30" fill="#00ff00"/>
<rect x="518" y="307" width="4" height="26" fill="#00ff00"/>
<rect x="519" y="308" width="2" height="24" fill="#ffffff"/>
<rect x="523" y="282" width="1" height="15" fill="#00ff00"/>
<rect x="521" y="282" width="4" height="15" fill="#00ff00"/>
<rect x="522" y="283" width="2" height="13" fill="#ffffff"/>
<rect x="527" y="262" width="1" height="15" fill="#00ff00"/>
<rect x="525" y="269" width="4" height="1" fill="#00ff00"/>
<rect x="531" y="255" width="1" height="20" fill="#ff0000"/>
<rect x="529" y="271" width="4" height="4" fill="#ff0000"/>
<rect x="530" y="272" width="2" height="2" fill="#ffffff"/>
<rect x="535" y="273" width="1" height="27" fill="#ff0000"/>
<rect x="533" y="273" width="4" height="19" fill="#ff0000"/>
<rect x="538" y="279" width="1" height="13" fill="#00ff00"/>
<rect x="536" y="286" width="4" height="1" fill="#00ff00"/>
<rect x="542" y="283" width="1" height="22" fill="#ff0000"/>
<rect x="540" y="283" width="4" height="22" fill="#ff0000"/>
<rect x="546" y="292" width="1" height="19" fill="#ff0000"/>
<rect x="544" y="305" width="4" height="6" fill="#ff0000"/>
<rect x="545" y="306" width="2" height="4" fill="#ffffff"/>
<rect x="549" y="280" width="1" height="24" fill="#00ff00"/>
<rect x="547" y="283" width="4" height="17" fill="#00ff00"/>
<rect x="548" y="284" width="2" height="15" fill="#ffffff"/>
<rect x="553" y="277" width="1" height="20" fill="#ff0000"/>
<rect x="551" y="281" width="4" height="16" fill="#ff0000"/>
<rect x="557" y="287" width="1" height="17" fill="#00ff00"/>
<rect x="555" y="292" width="4" height="1" fill="#00ff00"/>
<rect x="560" y="277" width="1" height="15" fill="#00ff00"/>
<rect x="558" y="284" width="4" height="7" fill="#00ff00"/>
<rect x="559" y="285" width="2" height="5" fill="#ffffff"/>
<rect x="564" y="260" width="1" height="21" fill="#00ff00"/>
<rect x="562" y="271" width="4" height="10" fill="#00ff00"/>
<rect x="563" y="272" width="2" height="8" fill="#ffffff"/>
<rect x="568" y="244" width="1" height="40" fill="#00ff00"/>
<rect x="566" y="244" width="4" height="33" fill="#00ff00"/>
<rect x="567" y="245" width="2" height="31" fill="#ffffff"/>
<rect x="571" y="219" width="1" height="17" fill="#00ff00"/>
<rect x="569" y="219" width="4" height="12" fill="#00ff00"/>
<path d="M89 477h1v1h-1zM121 477h1v1h-1zM198 477h1v1h-1zM309 477h3v1h-3zM432 291h1v1h-1zM484 291h1v1h-1zM525 291h1v1h-1zM0 481h14v1h-14zM86 481h1v1h-1zM127 481h2v1h-2zM195 481h1v1h-1zM216 462h2v1h-2zM257 462h5v1h-5zM363 462h2v1h-2zM448 253h2v1h-2zM459 253h1v1h-1zM567 253h1v1h-1zM414 386h1v1h-1zM424 332h1v1h-1zM146 492h2v1h-2zM179 492h6v1h-6zM410 406h1v1h-1zM437 271h1v1h-1zM472 271h1v1h-1zM534 271h1v1h-1zM447 254h1v1h-1zM460 254h1v1h-1zM566 254h1v1h-1zM428 311h1v1h-1zM14 482h11v1h-11zM85 482h1v1h-1zM129 482h1v1h-1zM194 482h1v1h-1zM93 473h1v1h-1zM112 473h3v1h-3zM202 473h1v1h-1zM301 473h2v1h-2zM323 473h5v1h-5zM98 469h2v1h-2zM102 469h2v1h-2zM207 469h1v1h-1zM294 469h2v1h-2zM342 469h2v1h-2zM24 483h23v1h-23zM83 483h2v1h-2zM130 483h2v1h-2zM193 483h1v1h-1zM370 455h1v1h-1zM415 377h1v1h-1zM436 274h1v1h-1zM474 274h1v1h-1zM532 274h1v1h-1zM431 293h1v1h-1zM486 293h2v1h-2zM490 293h8v1h-8zM524 293h1v1h-1zM452 251h5v1h-5zM567 251h1v1h-1zM211 466h1v1h-1zM285 466h3v1h-3zM348 466h2v1h-2zM230 456h13v1h-13zM370 456h1v1h-1zM445 256h1v1h-1zM463 256h1v1h-1zM565 256h1v1h-1zM409 410h1v1h-1zM94 472h1v1h-1zM110 472h2v1h-2zM203 472h1v1h-1zM299 472h2v1h-2zM328 472h5v1h-5zM419 356h1v1h-1zM374 452h3v1h-3zM92 474h1v1h-1zM115 474h2v1h-2zM201 474h1v1h-1zM303 474h2v1h-2zM319 474h4v1h-4zM423 335h1v1h-1zM433 285h1v1h-1zM480 285h1v1h-1zM527 285h1v1h-1zM60 486h6v1h-6zM134 486h2v1h-2zM191 486h1v1h-1zM441 261h1v1h-1zM468 261h1v1h-1zM562 261h1v1h-1zM406 422h1v1h-1zM209 467h2v1h-2zM288 467h4v1h-4zM346 467h2v1h-2zM444 257h1v1h-1zM464 257h1v1h-1zM565 257h1v1h-1zM215 463h1v1h-1zM262 463h18v1h-18zM361 463h2v1h-2zM431 295h1v1h-1zM500 295h1v1h-1zM523 295h1v1h-1zM438 268h1v1h-1zM471 268h1v1h-1zM538 268h1v1h-1zM431 296h1v1h-1zM501 296h1v1h-1zM523 296h1v1h-1zM87 480h1v1h-1zM125 480h2v1h-2zM196 480h1v1h-1zM151 495h2v1h-2zM165 495h10v1h-10zM427 319h1v1h-1zM430 301h1v1h-1zM504 301h1v1h-1zM521 301h1v1h-1zM405 426h1v1h-1zM46 484h4v1h-4zM77 484h6v1h-6zM132 484h1v1h-1zM193 484h1v1h-1zM397 440h1v1h-1zM435 277h1v1h-1zM475 277h1v1h-1zM530 277h1v1h-1zM432 290h1v1h-1zM483 290h1v1h-1zM525 290h1v1h-1zM150 494h1v1h-1zM175 494h2v1h-2zM50 485h11v1h-11zM66 485h11v1h-11zM133 485h1v1h-1zM192 485h1v1h-1zM96 470h2v1h-2zM104 470h3v1h-3zM205 470h2v1h-2zM296 470h1v1h-1zM338 470h4v1h-4zM88 478h1v1h-1zM122 478h2v1h-2zM197 478h1v1h-1zM414 385h1v1h-1zM155 498h6v1h-6zM437 270h1v1h-1zM472 270h1v1h-1zM535 270h2v1h-2zM401 433h1v1h-1zM437 272h1v1h-1zM473 272h1v1h-1zM533 272h1v1h-1zM95 471h1v1h-1zM107 471h3v1h-3zM204 471h1v1h-1zM297 471h2v1h-2zM333 471h5v1h-5zM136 487h2v1h-2zM190 487h1v1h-1zM432 292h1v1h-1zM485 292h1v1h-1zM524 292h1v1h-1zM570 241h1v1h-1zM430 300h1v1h-1zM503 300h1v1h-1zM522 300h1v1h-1zM418 360h1v1h-1zM100 468h2v1h-2zM208 468h1v1h-1zM292 468h2v1h-2zM344 468h2v1h-2zM409 409h1v1h-1zM422 339h1v1h-1zM90 476h1v1h-1zM119 476h2v1h-2zM199 476h1v1h-1zM307 476h2v1h-2zM312 476h4v1h-4zM433 284h1v1h-1zM479 284h1v1h-1zM527 284h1v1h-1zM436 273h1v1h-1zM473 273h1v1h-1zM532 273h1v1h-1zM400 436h1v1h-1zM431 294h1v1h-1zM488 294h2v1h-2zM498 294h2v1h-2zM523 294h1v1h-1zM439 265h1v1h-1zM470 265h1v1h-1zM553 265h5v1h-5zM413 393h1v1h-1zM227 457h3v1h-3zM243 457h2v1h-2zM369 457h1v1h-1zM427 318h1v1h-1zM91 475h1v1h-1zM117 475h2v1h-2zM200 475h1v1h-1zM305 475h2v1h-2zM316 475h3v1h-3zM432 288h1v1h-1zM482 288h1v1h-1zM526 288h1v1h-1zM224 458h3v1h-3zM245 458h3v1h-3zM368 458h1v1h-1zM439 266h1v1h-1zM470 266h1v1h-1zM544 266h9v1h-9zM405 425h1v1h-1zM431 297h1v1h-1zM502 297h1v1h-1zM522 297h1v1h-1zM222 459h2v1h-2zM248 459h3v1h-3zM367 459h1v1h-1zM432 289h1v1h-1zM483 289h1v1h-1zM525 289h1v1h-1zM396 443h1v1h-1zM426 322h1v1h-1zM387 449h3v1h-3zM413 388h1v1h-1zM404 428h1v1h-1zM443 258h1v1h-1zM465 258h1v1h-1zM564 258h1v1h-1zM429 309h1v1h-1zM514 309h2v1h-2zM517 309h1v1h-1zM417 367h1v1h-1zM430 299h1v1h-1zM503 299h1v1h-1zM522 299h1v1h-1zM421 346h1v1h-1zM442 259h1v1h-1zM466 259h1v1h-1zM564 259h1v1h-1zM418 359h1v1h-1zM569 244h1v1h-1zM153 496h1v1h-1zM163 496h2v1h-2zM408 412h1v1h-1zM144 491h2v1h-2zM185 491h1v1h-1zM400 435h1v1h-1zM214 464h1v1h-1zM280 464h2v1h-2zM356 464h5v1h-5zM568 248h1v1h-1zM377 451h5v1h-5zM416 370h1v1h-1zM220 460h2v1h-2zM251 460h3v1h-3zM366 460h1v1h-1zM413 392h1v1h-1zM212 465h2v1h-2zM282 465h3v1h-3zM350 465h6v1h-6zM438 269h1v1h-1zM472 269h1v1h-1zM537 269h1v1h-1zM138 488h2v1h-2zM189 488h1v1h-1zM433 287h1v1h-1zM481 287h1v1h-1zM526 287h1v1h-1zM148 493h2v1h-2zM177 493h2v1h-2zM140 489h2v1h-2zM187 489h2v1h-2zM382 450h5v1h-5zM396 442h1v1h-1zM422 342h1v1h-1zM441 262h1v1h-1zM468 262h1v1h-1zM561 262h1v1h-1zM426 321h1v1h-1zM142 490h2v1h-2zM186 490h1v1h-1zM440 264h1v1h-1zM469 264h1v1h-1zM558 264h1v1h-1zM430 302h1v1h-1zM504 302h1v1h-1zM521 302h1v1h-1zM412 395h1v1h-1zM416 374h1v1h-1zM450 252h2v1h-2zM457 252h2v1h-2zM567 252h1v1h-1zM218 461h2v1h-2zM254 461h3v1h-3zM365 461h1v1h-1zM390 448h2v1h-2zM372 453h2v1h-2zM417 366h1v1h-1zM418 358h1v1h-1zM421 345h1v1h-1zM569 243h1v1h-1zM430 303h1v1h-1zM505 303h2v1h-2zM521 303h1v1h-1zM407 419h1v1h-1zM429 305h1v1h-1zM508 305h1v1h-1zM520 305h1v1h-1zM446 255h1v1h-1zM461 255h2v1h-2zM566 255h1v1h-1zM429 306h1v1h-1zM509 306h2v1h-2zM520 306h1v1h-1zM412 399h1v1h-1zM425 329h1v1h-1zM442 260h1v1h-1zM467 260h1v1h-1zM563 260h1v1h-1zM568 247h1v1h-1zM399 438h1v1h-1zM416 369h1v1h-1zM430 298h1v1h-1zM502 298h1v1h-1zM522 298h1v1h-1zM429 308h1v1h-1zM512 308h2v1h-2zM518 308h1v1h-1zM438 267h1v1h-1zM471 267h1v1h-1zM539 267h5v1h-5zM408 415h1v1h-1zM440 263h1v1h-1zM469 263h1v1h-1zM559 263h2v1h-2zM412 394h1v1h-1zM416 373h1v1h-1zM403 430h1v1h-1zM154 497h1v1h-1zM161 497h2v1h-2zM421 344h1v1h-1zM395 444h1v1h-1zM434 281h1v1h-1zM478 281h1v1h-1zM528 281h1v1h-1zM407 418h1v1h-1zM434 283h1v1h-1zM479 283h1v1h-1zM528 283h1v1h-1zM420 348h1v1h-1zM428 315h1v1h-1zM425 328h1v1h-1zM568 246h1v1h-1zM399 437h1v1h-1zM411 402h1v1h-1zM429 307h1v1h-1zM511 307h1v1h-1zM519 307h1v1h-1zM415 381h1v1h-1zM433 286h1v1h-1zM480 286h1v1h-1zM526 286h1v1h-1zM424 331h1v1h-1zM410 405h1v1h-1zM428 310h1v1h-1zM516 310h1v1h-1zM415 376h1v1h-1zM419 355h1v1h-1zM423 334h1v1h-1zM406 421h1v1h-1zM88 479h1v1h-1zM124 479h1v1h-1zM196 479h1v1h-1zM428 314h1v1h-1zM425 327h1v1h-1zM371 454h1v1h-1zM411 401h1v1h-1zM402 432h1v1h-1zM415 380h1v1h-1zM423 338h1v1h-1zM420 351h1v1h-1zM414 384h1v1h-1zM424 330h1v1h-1zM398 439h1v1h-1zM410 404h1v1h-1zM393 446h1v1h-1zM570 240h1v1h-1zM415 375h1v1h-1zM409 408h1v1h-1zM419 354h1v1h-1zM406 420h1v1h-1zM428 313h1v1h-1zM427 317h1v1h-1zM405 424h1v1h-1zM423 337h1v1h-1zM436 276h1v1h-1zM475 276h1v1h-1zM531 276h1v1h-1zM434 282h1v1h-1zM478 282h1v1h-1zM528 282h1v1h-1zM414 383h1v1h-1zM404 427h1v1h-1zM435 279h1v1h-1zM476 279h1v1h-1zM529 279h1v1h-1zM429 304h1v1h-1zM507 304h1v1h-1zM521 304h1v1h-1zM414 387h1v1h-1zM413 391h1v1h-1zM427 316h1v1h-1zM405 423h1v1h-1zM418 362h1v1h-1zM436 275h1v1h-1zM474 275h1v1h-1zM531 275h1v1h-1zM409 411h1v1h-1zM422 341h1v1h-1zM426 320h1v1h-1zM417 365h1v1h-1zM418 357h1v1h-1zM569 242h1v1h-1zM435 278h1v1h-1zM476 278h1v1h-1zM530 278h1v1h-1zM426 324h1v1h-1zM412 398h1v1h-1zM434 280h1v1h-1zM477 280h1v1h-1zM529 280h1v1h-1zM413 390h1v1h-1zM401 434h1v1h-1zM418 361h1v1h-1zM422 340h1v1h-1zM408 414h1v1h-1zM568 250h1v1h-1zM416 372h1v1h-1zM417 364h1v1h-1zM403 429h1v1h-1zM392 447h1v1h-1zM421 343h1v1h-1zM407 417h1v1h-1zM426 323h1v1h-1zM412 397h1v1h-1zM568 245h1v1h-1zM413 389h1v1h-1zM417 368h1v1h-1zM421 347h1v1h-1zM408 413h1v1h-1zM568 249h1v1h-1zM416 371h1v1h-1zM417 363h1v1h-1zM571 239h1v1h-1zM407 416h1v1h-1zM412 396h1v1h-1zM425 326h1v1h-1zM411 400h1v1h-1zM402 431h1v1h-1zM415 379h1v1h-1zM420 350h1v1h-1zM419 353h1v1h-1zM394 445h1v1h-1zM424 333h1v1h-1zM410 407h1v1h-1zM425 325h1v1h-1zM428 312h1v1h-1zM415 378h1v1h-1zM423 336h1v1h-1zM420 349h1v1h-1zM414 382h1v1h-1zM411 403h1v1h-1zM397 441h1v1h-1zM419 352h1v1h-1z" fill="#0000ff"/>
<path d="M4 497h5v1h-5zM82 497h1v1h-1zM251 497h2v1h-2zM279 497h12v1h-12zM411 497h1v1h-1zM450 497h1v1h-1zM483 364h1v1h-1zM528 364h2v1h-2zM533 364h4v1h-4zM336 490h9v1h-9zM406 490h1v1h-1zM452 490h1v1h-1zM99 527h1v1h-1zM171 527h2v1h-2zM430 527h1v1h-1zM432 527h1v1h-1zM89 508h1v1h-1zM235 508h1v1h-1zM416 508h1v1h-1zM445 508h1v1h-1zM471 417h1v1h-1zM122 537h3v1h-3zM139 537h4v1h-4zM485 362h1v1h-1zM526 362h1v1h-1zM543 362h3v1h-3zM46 495h11v1h-11zM72 495h10v1h-10zM255 495h2v1h-2zM272 495h3v1h-3zM296 495h3v1h-3zM409 495h1v1h-1zM451 495h1v1h-1zM385 484h4v1h-4zM398 484h3v1h-3zM454 484h1v1h-1zM470 421h1v1h-1zM56 494h7v1h-7zM70 494h2v1h-2zM257 494h6v1h-6zM268 494h4v1h-4zM299 494h3v1h-3zM409 494h1v1h-1zM451 494h1v1h-1zM458 465h1v1h-1zM92 515h1v1h-1zM225 515h1v1h-1zM419 515h1v1h-1zM442 515h1v1h-1zM9 496h37v1h-37zM82 496h1v1h-1zM253 496h2v1h-2zM275 496h4v1h-4zM291 496h5v1h-5zM410 496h1v1h-1zM451 496h1v1h-1zM475 396h1v1h-1zM353 488h3v1h-3zM372 488h4v1h-4zM404 488h1v1h-1zM453 488h1v1h-1zM474 400h1v1h-1zM88 506h1v1h-1zM238 506h2v1h-2zM415 506h1v1h-1zM446 506h1v1h-1zM306 492h26v1h-26zM408 492h1v1h-1zM452 492h1v1h-1zM462 453h1v1h-1zM484 363h1v1h-1zM527 363h1v1h-1zM537 363h6v1h-6zM94 519h1v1h-1zM209 519h4v1h-4zM421 519h1v1h-1zM440 519h1v1h-1zM96 523h1v1h-1zM187 523h6v1h-6zM201 523h2v1h-2zM425 523h2v1h-2zM436 523h1v1h-1zM86 503h1v1h-1zM243 503h1v1h-1zM414 503h1v1h-1zM448 503h1v1h-1zM99 528h1v1h-1zM169 528h2v1h-2zM431 528h1v1h-1zM115 535h3v1h-3zM146 535h3v1h-3zM479 380h1v1h-1zM63 493h7v1h-7zM263 493h5v1h-5zM302 493h4v1h-4zM408 493h1v1h-1zM451 493h1v1h-1zM94 520h1v1h-1zM207 520h2v1h-2zM422 520h1v1h-1zM440 520h1v1h-1zM557 345h3v1h-3zM566 345h2v1h-2zM98 526h1v1h-1zM173 526h2v1h-2zM429 526h1v1h-1zM433 526h1v1h-1zM93 518h1v1h-1zM213 518h5v1h-5zM421 518h1v1h-1zM441 518h1v1h-1zM461 456h1v1h-1zM91 514h1v1h-1zM226 514h2v1h-2zM419 514h1v1h-1zM443 514h1v1h-1zM95 522h1v1h-1zM203 522h2v1h-2zM423 522h2v1h-2zM437 522h2v1h-2zM478 383h1v1h-1zM490 357h9v1h-9zM501 357h2v1h-2zM522 357h1v1h-1zM547 357h1v1h-1zM466 436h1v1h-1zM465 440h1v1h-1zM486 360h1v1h-1zM525 360h1v1h-1zM546 360h1v1h-1zM97 524h1v1h-1zM179 524h8v1h-8zM193 524h4v1h-4zM199 524h2v1h-2zM427 524h1v1h-1zM435 524h1v1h-1zM389 483h9v1h-9zM454 483h1v1h-1zM359 486h11v1h-11zM381 486h2v1h-2zM403 486h1v1h-1zM453 486h1v1h-1zM457 472h1v1h-1zM90 511h1v1h-1zM231 511h1v1h-1zM417 511h1v1h-1zM444 511h1v1h-1zM473 407h1v1h-1zM470 420h1v1h-1zM512 352h7v1h-7zM551 352h1v1h-1zM474 399h1v1h-1zM0 498h5v1h-5zM83 498h1v1h-1zM249 498h2v1h-2zM411 498h1v1h-1zM450 498h1v1h-1zM91 513h1v1h-1zM228 513h2v1h-2zM418 513h1v1h-1zM443 513h1v1h-1zM478 387h1v1h-1zM125 538h3v1h-3zM135 538h4v1h-4zM345 489h8v1h-8zM405 489h1v1h-1zM452 489h1v1h-1zM479 379h1v1h-1zM555 347h1v1h-1zM570 347h1v1h-1zM128 539h7v1h-7zM487 359h1v1h-1zM524 359h1v1h-1zM546 359h1v1h-1zM469 423h1v1h-1zM90 512h1v1h-1zM230 512h1v1h-1zM418 512h1v1h-1zM444 512h1v1h-1zM118 536h4v1h-4zM143 536h3v1h-3zM110 533h3v1h-3zM154 533h9v1h-9zM332 491h4v1h-4zM407 491h1v1h-1zM452 491h1v1h-1zM461 455h1v1h-1zM97 525h1v1h-1zM175 525h4v1h-4zM197 525h2v1h-2zM428 525h1v1h-1zM434 525h1v1h-1zM508 353h4v1h-4zM519 353h1v1h-1zM550 353h1v1h-1zM465 439h1v1h-1zM84 500h1v1h-1zM247 500h1v1h-1zM412 500h1v1h-1zM449 500h1v1h-1zM482 366h1v1h-1zM531 366h1v1h-1zM456 475h1v1h-1zM473 406h1v1h-1zM470 419h1v1h-1zM464 443h1v1h-1zM356 487h3v1h-3zM370 487h2v1h-2zM376 487h5v1h-5zM404 487h1v1h-1zM453 487h1v1h-1zM478 386h1v1h-1zM477 390h1v1h-1zM383 485h2v1h-2zM401 485h2v1h-2zM453 485h1v1h-1zM460 459h1v1h-1zM100 529h2v1h-2zM168 529h1v1h-1zM107 532h3v1h-3zM163 532h3v1h-3zM85 502h1v1h-1zM244 502h1v1h-1zM413 502h1v1h-1zM448 502h1v1h-1zM95 521h1v1h-1zM205 521h2v1h-2zM422 521h1v1h-1zM439 521h1v1h-1zM560 344h6v1h-6zM554 349h1v1h-1zM93 517h1v1h-1zM218 517h4v1h-4zM420 517h1v1h-1zM441 517h1v1h-1zM92 516h1v1h-1zM222 516h3v1h-3zM420 516h1v1h-1zM442 516h1v1h-1zM459 462h1v1h-1zM481 373h1v1h-1zM456 474h1v1h-1zM473 405h1v1h-1zM87 504h1v1h-1zM241 504h2v1h-2zM414 504h1v1h-1zM447 504h1v1h-1zM90 510h1v1h-1zM232 510h2v1h-2zM417 510h1v1h-1zM445 510h1v1h-1zM468 430h1v1h-1zM455 478h1v1h-1zM477 389h1v1h-1zM89 509h1v1h-1zM234 509h1v1h-1zM417 509h1v1h-1zM445 509h1v1h-1zM113 534h2v1h-2zM149 534h5v1h-5zM460 458h1v1h-1zM482 369h1v1h-1zM556 346h1v1h-1zM568 346h2v1h-2zM476 393h1v1h-1zM102 530h3v1h-3zM167 530h1v1h-1zM454 481h1v1h-1zM554 348h1v1h-1zM485 361h1v1h-1zM525 361h1v1h-1zM545 361h1v1h-1zM459 461h1v1h-1zM85 501h1v1h-1zM245 501h2v1h-2zM413 501h1v1h-1zM449 501h1v1h-1zM481 372h1v1h-1zM87 505h1v1h-1zM240 505h1v1h-1zM415 505h1v1h-1zM447 505h1v1h-1zM472 409h1v1h-1zM480 376h1v1h-1zM467 433h1v1h-1zM455 477h1v1h-1zM477 388h1v1h-1zM476 392h1v1h-1zM463 449h1v1h-1zM488 358h2v1h-2zM499 358h2v1h-2zM523 358h1v1h-1zM547 358h1v1h-1zM471 416h1v1h-1zM475 395h1v1h-1zM472 408h1v1h-1zM462 452h1v1h-1zM480 375h1v1h-1zM467 432h1v1h-1zM458 468h1v1h-1zM466 435h1v1h-1zM463 448h1v1h-1zM88 507h1v1h-1zM236 507h2v1h-2zM416 507h1v1h-1zM446 507h1v1h-1zM553 350h1v1h-1zM457 471h1v1h-1zM471 415h1v1h-1zM506 354h2v1h-2zM520 354h1v1h-1zM550 354h1v1h-1zM503 356h1v1h-1zM522 356h1v1h-1zM548 356h1v1h-1zM462 451h1v1h-1zM461 454h1v1h-1zM458 467h1v1h-1zM474 402h1v1h-1zM479 382h1v1h-1zM469 426h1v1h-1zM457 470h1v1h-1zM470 418h1v1h-1zM462 450h1v1h-1zM478 385h1v1h-1zM483 365h1v1h-1zM530 365h1v1h-1zM532 365h1v1h-1zM465 442h1v1h-1zM470 422h1v1h-1zM474 401h1v1h-1zM84 499h1v1h-1zM248 499h1v1h-1zM412 499h1v1h-1zM450 499h1v1h-1zM105 531h2v1h-2zM166 531h1v1h-1zM469 425h1v1h-1zM457 469h1v1h-1zM456 473h1v1h-1zM473 404h1v1h-1zM468 429h1v1h-1zM504 355h2v1h-2zM521 355h1v1h-1zM549 355h1v1h-1zM478 384h1v1h-1zM465 441h1v1h-1zM482 368h1v1h-1zM464 445h1v1h-1zM481 371h1v1h-1zM469 424h1v1h-1zM473 403h1v1h-1zM468 428h1v1h-1zM459 464h1v1h-1zM472 412h1v1h-1zM482 367h1v1h-1zM456 476h1v1h-1zM464 444h1v1h-1zM455 480h1v1h-1zM477 391h1v1h-1zM481 370h1v1h-1zM460 460h1v1h-1zM480 374h1v1h-1zM468 427h1v1h-1zM467 431h1v1h-1zM459 463h1v1h-1zM475 398h1v1h-1zM472 411h1v1h-1zM463 447h1v1h-1zM480 378h1v1h-1zM455 479h1v1h-1zM471 414h1v1h-1zM476 394h1v1h-1zM466 438h1v1h-1zM454 482h1v1h-1zM458 466h1v1h-1zM472 410h1v1h-1zM475 397h1v1h-1zM463 446h1v1h-1zM480 377h1v1h-1zM479 381h1v1h-1zM467 434h1v1h-1zM471 413h1v1h-1zM461 457h1v1h-1zM466 437h1v1h-1zM552 351h1v1h-1z" fill="#0000ff"/>
<path d="M236 481h7v1h-7zM282 481h14v1h-14zM330 481h12v1h-12zM0 489h83v1h-83zM217 489h5v1h-5zM242 479h11v1h-11zM271 479h12v1h-12zM341 479h9v1h-9zM561 301h5v1h-5zM479 330h4v1h-4zM506 330h13v1h-13zM485 326h5v1h-5zM497 326h5v1h-5zM523 326h3v1h-3zM0 490h87v1h-87zM215 490h5v1h-5zM483 327h5v1h-5zM499 327h5v1h-5zM521 327h4v1h-4zM93 495h3v1h-3zM205 495h4v1h-4zM388 466h6v1h-6zM232 482h8v1h-8zM284 482h16v1h-16zM322 482h16v1h-16zM138 514h28v1h-28zM450 371h3v1h-3zM130 511h6v1h-6zM168 511h6v1h-6zM119 507h7v1h-7zM183 507h8v1h-8zM252 477h20v1h-20zM349 477h8v1h-8zM422 429h2v1h-2zM482 328h4v1h-4zM501 328h6v1h-6zM518 328h6v1h-6zM227 484h6v1h-6zM299 484h24v1h-24zM378 468h11v1h-11zM447 378h3v1h-3zM223 486h5v1h-5zM225 485h5v1h-5zM304 485h14v1h-14zM476 333h3v1h-3zM569 295h2v1h-2zM418 436h3v1h-3zM101 500h7v1h-7zM199 500h3v1h-3zM95 497h4v1h-4zM202 497h4v1h-4zM369 471h6v1h-6zM442 385h3v1h-3zM113 505h7v1h-7zM190 505h5v1h-5zM366 472h6v1h-6zM470 340h3v1h-3zM415 443h2v1h-2zM468 342h3v1h-3zM529 321h3v1h-3zM239 480h9v1h-9zM277 480h8v1h-8zM337 480h9v1h-9zM122 508h6v1h-6zM178 508h10v1h-10zM356 475h7v1h-7zM229 483h8v1h-8zM295 483h10v1h-10zM317 483h14v1h-14zM463 349h3v1h-3zM547 311h3v1h-3zM408 453h2v1h-2zM247 478h31v1h-31zM345 478h9v1h-9zM445 381h3v1h-3zM544 313h5v1h-5zM132 512h7v1h-7zM165 512h6v1h-6zM567 298h3v1h-3zM459 356h3v1h-3zM402 459h3v1h-3zM474 335h3v1h-3zM89 493h5v1h-5zM208 493h5v1h-5zM91 494h4v1h-4zM206 494h5v1h-5zM429 413h3v1h-3zM149 515h15v1h-15zM413 446h2v1h-2zM456 362h3v1h-3zM358 474h9v1h-9zM487 325h13v1h-13zM524 325h4v1h-4zM437 395h3v1h-3zM451 369h3v1h-3zM426 420h3v1h-3zM527 323h3v1h-3zM464 348h3v1h-3zM127 510h6v1h-6zM170 510h9v1h-9zM135 513h15v1h-15zM163 513h6v1h-6zM552 307h4v1h-4zM125 509h6v1h-6zM173 509h11v1h-11zM408 452h3v1h-3zM98 499h8v1h-8zM200 499h3v1h-3zM539 314h9v1h-9zM116 506h7v1h-7zM187 506h6v1h-6zM534 317h3v1h-3zM458 358h3v1h-3zM398 461h5v1h-5zM82 491h8v1h-8zM212 491h6v1h-6zM454 365h3v1h-3zM425 423h2v1h-2zM391 465h4v1h-4zM436 397h3v1h-3zM450 372h2v1h-2zM421 430h3v1h-3zM105 501h5v1h-5zM197 501h4v1h-4zM433 404h3v1h-3zM480 329h4v1h-4zM503 329h19v1h-19zM418 437h2v1h-2zM558 303h4v1h-4zM449 373h3v1h-3zM569 294h3v1h-3zM420 432h3v1h-3zM432 406h3v1h-3zM371 470h8v1h-8zM477 332h3v1h-3zM417 439h2v1h-2zM441 387h3v1h-3zM469 341h3v1h-3zM221 487h5v1h-5zM568 297h2v1h-2zM460 355h2v1h-2zM475 334h3v1h-3zM446 380h3v1h-3zM417 438h3v1h-3zM430 412h2v1h-2zM362 473h8v1h-8zM489 324h9v1h-9zM525 324h4v1h-4zM428 415h3v1h-3zM413 445h3v1h-3zM440 389h3v1h-3zM427 419h2v1h-2zM467 344h3v1h-3zM353 476h6v1h-6zM462 351h3v1h-3zM407 454h3v1h-3zM459 357h2v1h-2zM536 315h9v1h-9zM473 337h3v1h-3zM535 316h5v1h-5zM455 364h2v1h-2zM425 422h3v1h-3zM549 309h4v1h-4zM109 503h5v1h-5zM194 503h4v1h-4zM86 492h6v1h-6zM210 492h6v1h-6zM453 366h3v1h-3zM393 464h4v1h-4zM421 431h2v1h-2zM107 502h5v1h-5zM195 502h5v1h-5zM433 405h2v1h-2zM374 469h10v1h-10zM111 504h6v1h-6zM192 504h4v1h-4zM559 302h5v1h-5zM555 305h4v1h-4zM94 496h4v1h-4zM204 496h3v1h-3zM465 347h3v1h-3zM449 375h2v1h-2zM568 296h3v1h-3zM400 460h4v1h-4zM431 408h3v1h-3zM445 382h2v1h-2zM416 440h3v1h-3zM394 463h5v1h-5zM416 441h2v1h-2zM468 343h2v1h-2zM412 447h3v1h-3zM553 306h4v1h-4zM412 448h2v1h-2zM463 350h2v1h-2zM437 396h2v1h-2zM565 299h4v1h-4zM474 336h2v1h-2zM533 318h3v1h-3zM455 363h3v1h-3zM439 391h3v1h-3zM426 421h2v1h-2zM550 308h4v1h-4zM436 398h2v1h-2zM405 456h3v1h-3zM458 359h2v1h-2zM530 320h4v1h-4zM424 424h3v1h-3zM556 304h4v1h-4zM449 374h2v1h-2zM97 498h5v1h-5zM201 498h4v1h-4zM420 433h2v1h-2zM432 407h2v1h-2zM219 488h5v1h-5zM396 462h5v1h-5zM429 414h2v1h-2zM441 388h2v1h-2zM448 377h2v1h-2zM443 384h3v1h-3zM563 300h5v1h-5zM415 442h3v1h-3zM428 416h2v1h-2zM440 390h2v1h-2zM466 345h3v1h-3zM411 449h3v1h-3zM548 310h3v1h-3zM406 455h3v1h-3zM403 458h3v1h-3zM531 319h4v1h-4zM452 367h3v1h-3zM383 467h9v1h-9zM448 376h3v1h-3zM570 293h2v1h-2zM444 383h3v1h-3zM409 451h3v1h-3zM478 331h3v1h-3zM404 457h3v1h-3zM461 353h2v1h-2zM457 360h3v1h-3zM414 444h3v1h-3zM427 418h2v1h-2zM439 392h2v1h-2zM528 322h3v1h-3zM424 425h2v1h-2zM436 399h2v1h-2zM423 427h2v1h-2zM435 401h2v1h-2zM419 434h3v1h-3zM430 411h2v1h-2zM466 346h2v1h-2zM461 352h3v1h-3zM427 417h3v1h-3zM471 339h3v1h-3zM410 450h3v1h-3zM452 368h2v1h-2zM423 426h3v1h-3zM435 400h3v1h-3zM434 403h2v1h-2zM430 410h3v1h-3zM472 338h3v1h-3zM438 394h2v1h-2zM460 354h3v1h-3zM457 361h2v1h-2zM438 393h3v1h-3zM451 370h2v1h-2zM422 428h3v1h-3zM434 402h3v1h-3zM419 435h2v1h-2zM431 409h2v1h-2zM442 386h2v1h-2zM447 379h2v1h-2zM547 312h2v1h-2z" fill="#0000ff"/>
<rect x="-1" y="631" width="2" height="9" fill="#008000"/>
<rect x="2" y="630" width="2" height="10" fill="#008000"/>
<rect x="6" y="631" width="2" height="9" fill="#008000"/>
<rect x="10" y="632" width="2" height="8" fill="#008000"/>
<rect x="13" y="630" width="2" height="10" fill="#008000"/>
<rect x="17" y="630" width="2" height="10" fill="#008000"/>
<rect x="21" y="630" width="2" height="10" fill="#008000"/>
<rect x="24" y="634" width="2" height="6" fill="#008000"/>
<rect x="28" y="630" width="2" height="10" fill="#008000"/>
<rect x="32" y="631" width="2" height="9" fill="#008000"/>
<rect x="36" y="629" width="2" height="11" fill="#008000"/>
<rect x="39" y="619" width="2" height="21" fill="#008000"/>
<rect x="43" y="631" width="2" height="9" fill="#008000"/>
<rect x="47" y="631" width="2" height="9" fill="#008000"/>
<rect x="50" y="634" width="2" height="6" fill="#008000"/>
<rect x="54" y="634" width="2" height="6" fill="#008000"/>
<rect x="58" y="634" width="2" height="6" fill="#008000"/>
<rect x="61" y="634" width="2" height="6" fill="#008000"/>
<rect x="65" y="635" width="2" height="5" fill="#008000"/>
<rect x="69" y="632" width="2" height="8" fill="#008000"/>
<rect x="72" y="632" width="2" height="8" fill="#008000"/>
<rect x="76" y="635" width="2" height="5" fill="#008000"/>
<rect x="80" y="634" width="2" height="6" fill="#008000"/>
<rect x="83" y="627" width="2" height="13" fill="#008000"/>
<rect x="87" y="622" width="2" height="18" fill="#008000"/>
<rect x="91" y="628" width="2" height="12" fill="#008000"/>
<rect x="95" y="605" width="2" height="35" fill="#008000"/>
<rect x="98" y="638" width="2" height="2" fill="#008000"/>
<rect x="102" y="622" width="2" height="18" fill="#008000"/>
<rect x="106" y="623" width="2" height="17" fill="#008000"/>
<rect x="109" y="630" width="2" height="10" fill="#008000"/>
<rect x="113" y="634" width="2" height="6" fill="#008000"/>
<rect x="117" y="634" width="2" height="6" fill="#008000"/>
<rect x="120" y="632" width="2" height="8" fill="#008000"/>
<rect x="124" y="634" width="2" height="6" fill="#008000"/>
<rect x="128" y="623" width="2" height="17" fill="#008000"/>
<rect x="131" y="634" width="2" height="6" fill="#008000"/>
<rect x="135" y="634" width="2" height="6" fill="#008000"/>
<rect x="139" y="613" width="2" height="27" fill="#008000"/>
<rect x="142" y="625" width="2" height="15" fill="#008000"/>
<rect x="146" y="630" width="2" height="10" fill="#008000"/>
<rect x="150" y="630" width="2" height="10" fill="#008000"/>
<rect x="154" y="630" width="2" height="10" fill="#008000"/>
<rect x="157" y="628" width="2" height="12" fill="#008000"/>
<rect x="161" y="629" width="2" height="11" fill="#008000"/>
<rect x="165" y="613" width="2" height="27" fill="#008000"/>
<rect x="168" y="629" width="2" height="11" fill="#008000"/>
<rect x="172" y="627" width="2" height="13" fill="#008000"/>
<rect x="176" y="631" width="2" height="9" fill="#008000"/>
<rect x="179" y="616" width="2" height="24" fill="#008000"/>
<rect x="183" y="628" width="2" height="12" fill="#008000"/>
<rect x="187" y="611" width="2" height="29" fill="#008000"/>
<rect x="190" y="613" width="2" height="27" fill="#008000"/>
<rect x="194" y="602" width="2" height="38" fill="#008000"/>
<rect x="198" y="603" width="2" height="37" fill="#008000"/>
<rect x="202" y="620" width="2" height="20" fill="#008000"/>
<rect x="205" y="609" width="2" height="31" fill="#008000"/>
<rect x="209" y="615" width="2" height="25" fill="#008000"/>
<rect x="213" y="610" width="2" height="30" fill="#008000"/>
<rect x="216" y="613" width="2" height="27" fill="#008000"/>
<rect x="220" y="616" width="2" height="24" fill="#008000"/>
<rect x="224" y="614" width="2" height="26" fill="#008000"/>
<rect x="227" y="618" width="2" height="22" fill="#008000"/>
<rect x="231" y="619" width="2" height="21" fill="#008000"/>
<rect x="235" y="618" width="2" height="22" fill="#008000"/>
<rect x="238" y="593" width="2" height="47" fill="#008000"/>
<rect x="242" y="618" width="2" height="22" fill="#008000"/>
<rect x="246" y="623" width="2" height="17" fill="#008000"/>
<rect x="249" y="629" width="2" height="11" fill="#008000"/>
<rect x="253" y="630" width="2" height="10" fill="#008000"/>
<rect x="257" y="612" width="2" height="28" fill="#008000"/>
<rect x="261" y="627" width="2" height="13" fill="#008000"/>
<rect x="264" y="630" width="2" height="10" fill="#008000"/>
<rect x="268" y="626" width="2" height="14" fill="#008000"/>
<rect x="272" y="632" width="2" height="8" fill="#008000"/>
<rect x="275" y="631" width="2" height="9" fill="#008000"/>
<rect x="279" y="628" width="2" height="12" fill="#008000"/>
<rect x="283" y="628" width="2" height="12" fill="#008000"/>
<rect x="286" y="630" width="2" height="10" fill="#008000"/>
<rect x="290" y="607" width="2" height="33" fill="#008000"/>
<rect x="294" y="629" width="2" height="11" fill="#008000"/>
<rect x="297" y="627" width="2" height="13" fill="#008000"/>
<rect x="301" y="627" width="2" height="13" fill="#008000"/>
<rect x="305" y="629" width="2" height="11" fill="#008000"/>
<rect x="309" y="611" width="2" height="29" fill="#008000"/>
<rect x="312" y="624" width="2" height="16" fill="#008000"/>
<rect x="316" y="624" width="2" height="16" fill="#008000"/>
<rect x="320" y="617" width="2" height="23" fill="#008000"/>
<rect x="323" y="616" width="2" height="24" fill="#008000"/>
<rect x="327" y="625" width="2" height="15" fill="#008000"/>
<rect x="331" y="622" width="2" height="18" fill="#008000"/>
<rect x="334" y="611" width="2" height="29" fill="#008000"/>
<rect x="338" y="624" width="2" height="16" fill="#008000"/>
<rect x="342" y="606" width="2" height="34" fill="#008000"/>
<rect x="345" y="596" width="2" height="44" fill="#008000"/>
<rect x="349" y="598" width="2" height="42" fill="#008000"/>
<rect x="353" y="604" width="2" height="36" fill="#008000"/>
<rect x="356" y="620" width="2" height="20" fill="#008000"/>
<rect x="360" y="613" width="2" height="27" fill="#008000"/>
<rect x="364" y="618" width="2" height="22" fill="#008000"/>
<rect x="368" y="617" width="2" height="23" fill="#008000"/>
<rect x="371" y="586" width="2" height="54" fill="#008000"/>
<rect x="375" y="577" width="2" height="63" fill="#008000"/>
<rect x="379" y="611" width="2" height="29" fill="#008000"/>
<rect x="382" y="599" width="2" height="41" fill="#008000"/>
<rect x="386" y="613" width="2" height="27" fill="#008000"/>
<rect x="390" y="606" width="2" height="34" fill="#008000"/>
<rect x="393" y="579" width="2" height="61" fill="#008000"/>
<rect x="397" y="616" width="2" height="24" fill="#008000"/>
<rect x="401" y="587" width="2" height="53" fill="#008000"/>
<rect x="404" y="594" width="2" height="46" fill="#008000"/>
<rect x="408" y="606" width="2" height="34" fill="#008000"/>
<rect x="412" y="568" width="2" height="72" fill="#008000"/>
<rect x="415" y="626" width="2" height="14" fill="#008000"/>
<rect x="419" y="575" width="2" height="65" fill="#008000"/>
<rect x="423" y="563" width="2" height="77" fill="#008000"/>
<rect x="427" y="609" width="2" height="31" fill="#008000"/>
<rect x="430" y="595" width="2" height="45" fill="#008000"/>
<rect x="434" y="579" width="2" height="61" fill="#008000"/>
<rect x="438" y="603" width="2" height="37" fill="#008000"/>
<rect x="441" y="600" width="2" height="40" fill="#008000"/>
<rect x="445" y="615" width="2" height="25" fill="#008000"/>
<rect x="449" y="574" width="2" height="66" fill="#008000"/>
<rect x="452" y="606" width="2" height="34" fill="#008000"/>
<rect x="456" y="613" width="2" height="27" fill="#008000"/>
<rect x="460" y="593" width="2" height="47" fill="#008000"/>
<rect x="463" y="610" width="2" height="30" fill="#008000"/>
<rect x="467" y="615" width="2" height="25" fill="#008000"/>
<rect x="471" y="604" width="2" height="36" fill="#008000"/>
<rect x="475" y="598" width="2" height="42" fill="#008000"/>
<rect x="478" y="616" width="2" height="24" fill="#008000"/>
<rect x="482" y="612" width="2" height="28" fill="#008000"/>
<rect x="486" y="606" width="2" height="34" fill="#008000"/>
<rect x="489" y="590" width="2" height="50" fill="#008000"/>
<rect x="493" y="611" width="2" height="29" fill="#008000"/>
<rect x="497" y="601" width="2" height="39" fill="#008000"/>
<rect x="500" y="612" width="2" height="28" fill="#008000"/>
<rect x="504" y="611" width="2" height="29" fill="#008000"/>
<rect x="508" y="610" width="2" height="30" fill="#008000"/>
<rect x="511" y="608" width="2" height="32" fill="#008000"/>
<rect x="515" y="623" width="2" height="17" fill="#008000"/>
<rect x="519" y="586" width="2" height="54" fill="#008000"/>
<rect x="522" y="614" width="2" height="26" fill="#008000"/>
<rect x="526" y="591" width="2" height="49" fill="#008000"/>
<rect x="530" y="613" width="2" height="27" fill="#008000"/>
<rect x="534" y="578" width="2" height="62" fill="#008000"/>
<rect x="537" y="625" width="2" height="15" fill="#008000"/>
<rect x="541" y="615" width="2" height="25" fill="#008000"/>
<rect x="545" y="613" width="2" height="27" fill="#008000"/>
<rect x="548" y="617" width="2" height="23" fill="#008000"/>
<rect x="552" y="617" width="2" height="23" fill="#008000"/>
<rect x="556" y="617" width="2" height="23" fill="#008000"/>
<rect x="559" y="622" width="2" height="18" fill="#008000"/>
<rect x="563" y="602" width="2" height="38" fill="#008000"/>
<rect x="567" y="590" width="2" height="50" fill="#008000"/>
<rect x="570" y="624" width="2" height="16" fill="#008000"/>
<path d="M66 631h29v1h-29zM199 621h12v1h-12zM280 621h16v1h-16zM343 621h3v1h-3zM196 623h4v1h-4zM295 623h17v1h-17zM324 623h20v1h-20zM431 597h5v1h-5zM463 597h17v1h-17zM155 626h5v1h-5zM184 626h8v1h-8zM227 616h13v1h-13zM262 616h8v1h-8zM353 616h18v1h-18zM217 618h11v1h-11zM269 618h8v1h-8zM348 618h6v1h-6zM7 627h6v1h-6zM18 627h35v1h-35zM140 627h49v1h-49zM191 624h7v1h-7zM302 624h34v1h-34zM188 625h9v1h-9zM311 625h14v1h-14zM236 615h12v1h-12zM250 615h17v1h-17zM368 615h4v1h-4zM59 630h46v1h-46zM110 630h20v1h-20zM435 595h29v1h-29zM0 629h8v1h-8zM11 629h9v1h-9zM51 629h17v1h-17zM94 629h47v1h-47zM210 619h17v1h-17zM273 619h8v1h-8zM345 619h7v1h-7zM206 620h12v1h-12zM276 620h9v1h-9zM344 620h5v1h-5zM412 600h12v1h-12zM483 600h13v1h-13zM0 628h61v1h-61zM103 628h8v1h-8zM129 628h27v1h-27zM158 628h27v1h-27zM401 604h4v1h-4zM499 604h14v1h-14zM400 605h4v1h-4zM503 605h12v1h-12zM527 605h18v1h-18zM438 594h5v1h-5zM197 622h10v1h-10zM284 622h19v1h-19zM335 622h10v1h-10zM247 613h4v1h-4zM371 613h4v1h-4zM393 606h9v1h-9zM512 606h40v1h-40zM239 614h24v1h-24zM370 614h3v1h-3zM226 617h11v1h-11zM265 617h9v1h-9zM351 617h18v1h-18zM388 608h6v1h-6zM551 608h19v1h-19zM378 609h13v1h-13zM557 609h16v1h-16zM410 601h12v1h-12zM485 601h4v1h-4zM492 601h6v1h-6zM403 603h8v1h-8zM497 603h7v1h-7zM423 598h11v1h-11zM477 598h7v1h-7zM390 607h11v1h-11zM514 607h14v1h-14zM544 607h14v1h-14zM375 610h14v1h-14zM569 610h4v1h-4zM421 599h11v1h-11zM479 599h7v1h-7zM488 599h5v1h-5zM374 611h5v1h-5zM433 596h6v1h-6zM442 596h36v1h-36zM404 602h9v1h-9zM495 602h5v1h-5zM372 612h4v1h-4z" fill="#ff0000"/>
<rect x="585" y="556" width="1" height="91" fill="#000"/>
<rect x="586" y="557" width="3" height="1" fill="#000"/>
<rect x="586" y="567" width="3" height="1" fill="#000"/>
<rect x="586" y="577" width="3" height="1" fill="#000"/>
<rect x="586" y="587" width="8" height="1" fill="#000"/>
<rect x="586" y="598" width="3" height="1" fill="#000"/>
<rect x="586" y="608" width="3" height="1" fill="#000"/>
<rect x="586" y="618" width="3" height="1" fill="#000"/>
<rect x="586" y="629" width="3" height="1" fill="#000"/>
<rect x="586" y="640" width="1" height="1" fill="#000"/>
<rect x="0" y="646" width="586" height="1" fill="#000"/>
<rect x="586" y="647" width="51" height="20" fill="#f0f0f0"/>
<rect x="0" y="666" width="586" height="1" fill="#f0f0f0"/>
<rect x="0" y="646" width="1" height="20" fill="#000"/>
<rect x="77" y="646" width="1" height="20" fill="#000"/>
<rect x="151" y="646" width="1" height="20" fill="#000"/>
<rect x="225" y="646" width="1" height="20" fill="#000"/>
<rect x="302" y="646" width="1" height="20" fill="#000"/>
<rect x="387" y="646" width="1" height="20" fill="#000"/>
<rect x="464" y="646" width="1" height="20" fill="#000"/>
<rect x="538" y="646" width="1" height="20" fill="#000"/>
<rect x="18" y="646" width="1" height="5" fill="#000"/>
<rect x="37" y="646" width="1" height="5" fill="#000"/>
<rect x="55" y="646" width="1" height="5" fill="#000"/>
<rect x="73" y="646" width="1" height="5" fill="#000"/>
<rect x="92" y="646" width="1" height="5" fill="#000"/>
<rect x="107" y="646" width="1" height="5" fill="#000"/>
<rect x="125" y="646" width="1" height="5" fill="#000"/>
<rect x="143" y="646" width="1" height="5" fill="#000"/>
<rect x="169" y="646" width="1" height="5" fill="#000"/>
<rect x="188" y="646" width="1" height="5" fill="#000"/>
<rect x="206" y="646" width="1" height="5" fill="#000"/>
<rect x="243" y="646" width="1" height="5" fill="#000"/>
<rect x="262" y="646" width="1" height="5" fill="#000"/>
<rect x="280" y="646" width="1" height="5" fill="#000"/>
<rect x="298" y="646" width="1" height="5" fill="#000"/>
<rect x="317" y="646" width="1" height="5" fill="#000"/>
<rect x="335" y="646" width="1" height="5" fill="#000"/>
<rect x="354" y="646" width="1" height="5" fill="#000"/>
<rect x="372" y="646" width="1" height="5" fill="#000"/>
<rect x="391" y="646" width="1" height="5" fill="#000"/>
<rect x="409" y="646" width="1" height="5" fill="#000"/>
<rect x="428" y="646" width="1" height="5" fill="#000"/>
<rect x="446" y="646" width="1" height="5" fill="#000"/>
<rect x="476" y="646" width="1" height="5" fill="#000"/>
<rect x="494" y="646" width="1" height="5" fill="#000"/>
<rect x="513" y="646" width="1" height="5" fill="#000"/>
<rect x="531" y="646" width="1" height="5" fill="#000"/>
<rect x="549" y="646" width="1" height="5" fill="#000"/>
<rect x="568" y="646" width="1" height="5" fill="#000"/>
<text x="1.6" y="663" font-size="12" text-anchor="start" fill="#000" >March</text>
<text x="78.6" y="663" font-size="12" text-anchor="start" fill="#000" >April</text>
<text x="153" y="663" font-size="12" text-anchor="start" fill="#000" >May</text>
<text x="227" y="663" font-size="12" text-anchor="start" fill="#000" >June</text>
<text x="304" y="663" font-size="12" text-anchor="start" fill="#000" >July</text>
<text x="388.8" y="663" font-size="12" text-anchor="start" fill="#000" >August</text>
<text x="466" y="663" font-size="12" text-anchor="start" fill="#000" >September</text>
<text x="540" y="663" font-size="12" text-anchor="start" fill="#000" >October</text>
<text x="631.9" y="49" font-size="12" text-anchor="end" fill="#000"  letter-spacing="0.3">50</text>
<text x="631.9" y="122.8" font-size="12" text-anchor="end" fill="#000"  letter-spacing="0.3">2000</text>
<text x="631.9" y="145.7" font-size="12" text-anchor="end" fill="#000"  letter-spacing="0.3">1000</text>
<text x="631.9" y="168.7" font-size="12" text-anchor="end" fill="#000"  letter-spacing="0.3">0</text>
<text x="631.9" y="542.5" font-size="12" text-anchor="end" fill="#000"  letter-spacing="0.3">9000</text>
<text x="631.9" y="527.5" font-size="12" text-anchor="end" fill="#000"  letter-spacing="0.3">10000</text>
<text x="631.9" y="512.5" font-size="12" text-anchor="end" fill="#000"  letter-spacing="0.3">11000</text>
<text x="631.9" y="497.5" font-size="12" text-anchor="end" fill="#000"  letter-spacing="0.3">12000</text>
<text x="631.9" y="482.5" font-size="12" text-anchor="end" fill="#000"  letter-spacing="0.3">13000</text>
<text x="631.9" y="468.5" font-size="12" text-anchor="end" fill="#000"  letter-spacing="0.3">14000</text>
<text x="631.9" y="453.5" font-size="12" text-anchor="end" fill="#000"  letter-spacing="0.3">15000</text>
<text x="631.9" y="438.5" font-size="12" text-anchor="end" fill="#000"  letter-spacing="0.3">16000</text>
<text x="631.9" y="423.5" font-size="12" text-anchor="end" fill="#000"  letter-spacing="0.3">17000</text>
<text x="631.9" y="408.5" font-size="12" text-anchor="end" fill="#000"  letter-spacing="0.3">18000</text>
<text x="631.9" y="393.5" font-size="12" text-anchor="end" fill="#000"  letter-spacing="0.3">19000</text>
<text x="631.9" y="378.5" font-size="12" text-anchor="end" fill="#000"  letter-spacing="0.3">20000</text>
<text x="631.9" y="363.5" font-size="12" text-anchor="end" fill="#000"  letter-spacing="0.3">21000</text>
<text x="631.9" y="348.5" font-size="12" text-anchor="end" fill="#000"  letter-spacing="0.3">22000</text>
<text x="631.9" y="334.5" font-size="12" text-anchor="end" fill="#000"  letter-spacing="0.3">23000</text>
<text x="631.9" y="319.5" font-size="12" text-anchor="end" fill="#000"  letter-spacing="0.3">24000</text>
<text x="631.9" y="304.5" font-size="12" text-anchor="end" fill="#000"  letter-spacing="0.3">25000</text>
<text x="631.9" y="289.5" font-size="12" text-anchor="end" fill="#000"  letter-spacing="0.3">26000</text>
<text x="631.9" y="274.5" font-size="12" text-anchor="end" fill="#000"  letter-spacing="0.3">27000</text>
<text x="631.9" y="259.5" font-size="12" text-anchor="end" fill="#000"  letter-spacing="0.3">28000</text>
<text x="631.9" y="244.5" font-size="12" text-anchor="end" fill="#000"  letter-spacing="0.3">29000</text>
<text x="631.9" y="214.5" font-size="12" text-anchor="end" fill="#000"  letter-spacing="0.3">31000</text>
<text x="631.9" y="593" font-size="12" text-anchor="end" fill="#000"  letter-spacing="0.3">50000</text>
<text x="631.9" y="644.6" font-size="12" text-anchor="end" fill="#000"  letter-spacing="0.3">0</text>
<rect x="587" y="633" width="29" height="13" fill="#000"/>
<rect x="588" y="634" width="27" height="12" fill="#fff"/>
<text x="588.7" y="643.2" font-size="10" text-anchor="start" fill="#000" textLength="25" lengthAdjust="spacingAndGlyphs">x1000</text>
<rect x="590" y="222" width="46" height="16" fill="#000"/>
<svg x="590" y="222" width="46" height="16" viewBox="590 222 46 16"><text x="591.2" y="234" font-size="11" fill="#00ff00" textLength="45.5" lengthAdjust="spacingAndGlyphs">29500.00</text></svg>
<text x="468.3" y="211.9" font-size="12" text-anchor="end" fill="#0000ff" >61.8%</text>
<text x="468.3" y="241.9" font-size="12" text-anchor="end" fill="#0000ff" >50.0%</text>
<text x="468.3" y="271.9" font-size="12" text-anchor="end" fill="#0000ff" >38.2%</text>
<text x="468.3" y="309.9" font-size="12" text-anchor="end" fill="#0000ff" >23.6%</text>
<text x="468.3" y="369.9" font-size="12" text-anchor="end" fill="#0000ff" >0.0%</text>
</svg>
</body></html>
